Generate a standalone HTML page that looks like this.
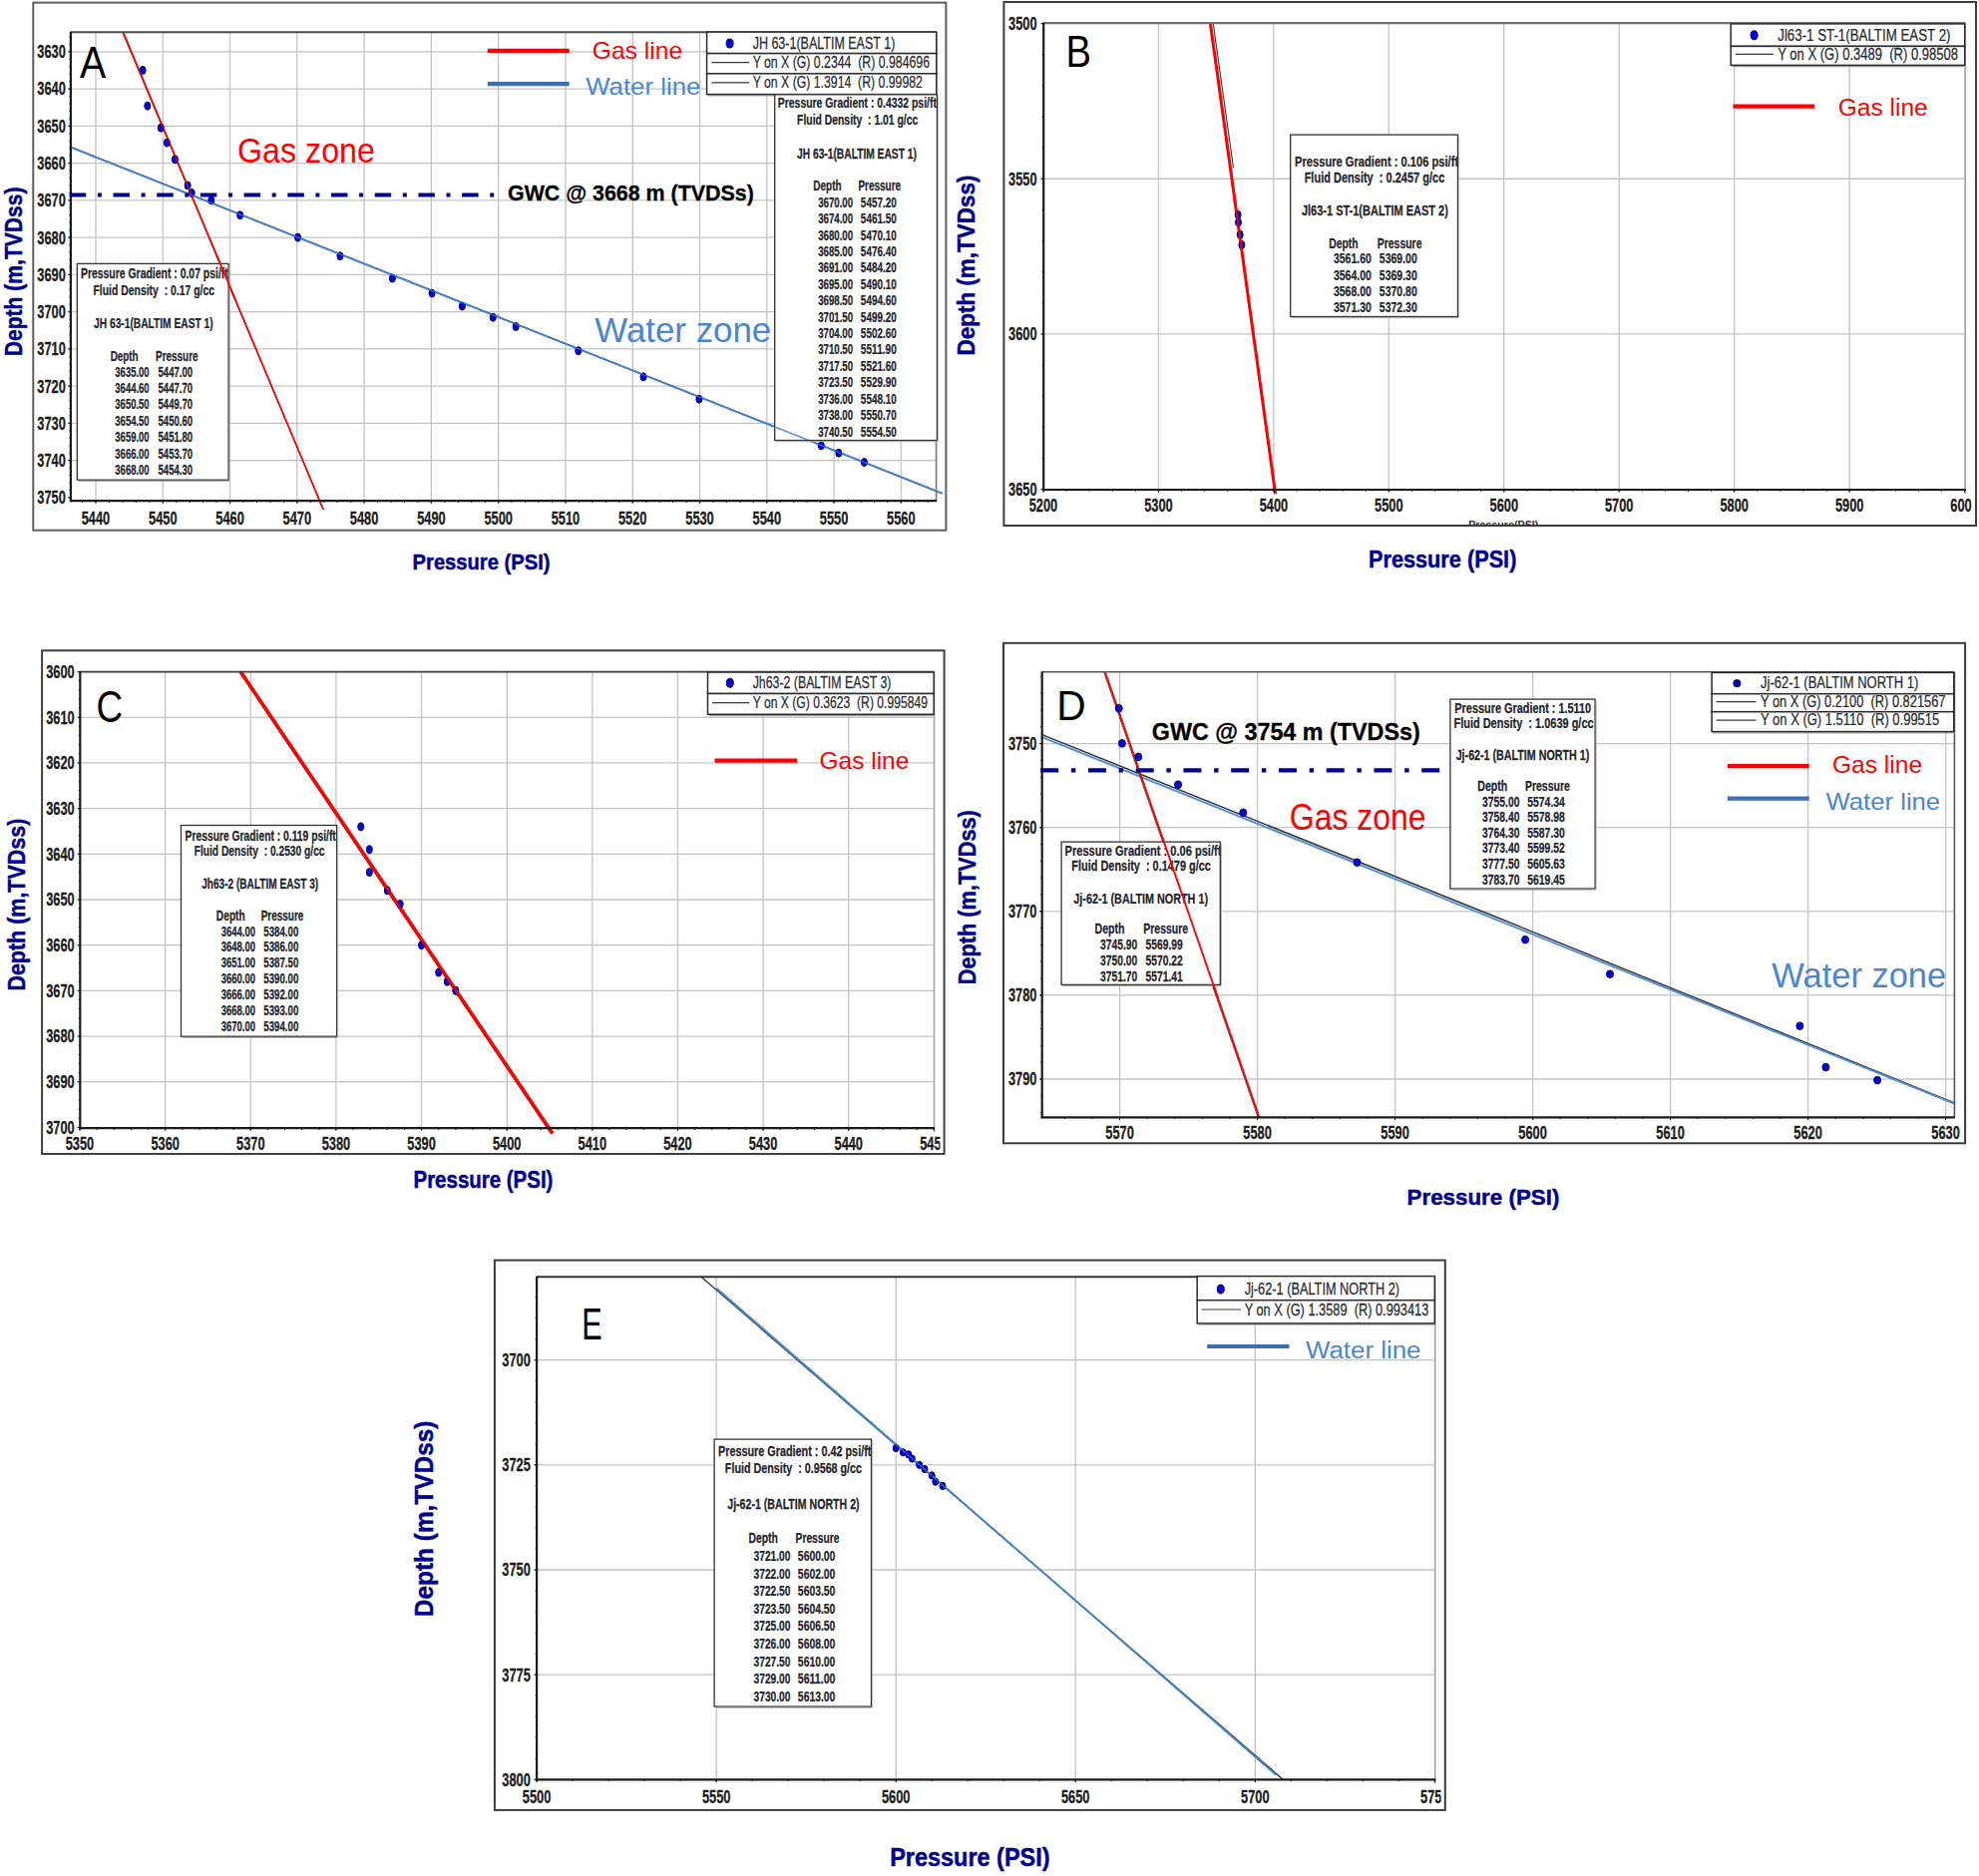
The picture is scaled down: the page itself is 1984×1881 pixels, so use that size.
<!DOCTYPE html>
<html lang="en"><head><meta charset="utf-8"><title>Pressure vs depth plots</title>
<style>html,body{margin:0;padding:0;background:#fff}svg{display:block}text{font-family:"Liberation Sans",Arial,Helvetica,sans-serif}</style></head><body>
<svg width="1984" height="1881" viewBox="0 0 1984 1881">
<g id="panelA">
<rect x="33.3" y="2.65" width="915.1" height="529.05" stroke="#5e5e5e" stroke-width="2" fill="#fff"/>
<line x1="96" y1="32.3" x2="96" y2="502.2" stroke="#c4c4c4" stroke-width="1.3"/>
<line x1="163.28" y1="32.3" x2="163.28" y2="502.2" stroke="#c4c4c4" stroke-width="1.3"/>
<line x1="230.56" y1="32.3" x2="230.56" y2="502.2" stroke="#c4c4c4" stroke-width="1.3"/>
<line x1="297.84" y1="32.3" x2="297.84" y2="502.2" stroke="#c4c4c4" stroke-width="1.3"/>
<line x1="365.12" y1="32.3" x2="365.12" y2="502.2" stroke="#c4c4c4" stroke-width="1.3"/>
<line x1="432.4" y1="32.3" x2="432.4" y2="502.2" stroke="#c4c4c4" stroke-width="1.3"/>
<line x1="499.68" y1="32.3" x2="499.68" y2="502.2" stroke="#c4c4c4" stroke-width="1.3"/>
<line x1="566.96" y1="32.3" x2="566.96" y2="502.2" stroke="#c4c4c4" stroke-width="1.3"/>
<line x1="634.24" y1="32.3" x2="634.24" y2="502.2" stroke="#c4c4c4" stroke-width="1.3"/>
<line x1="701.52" y1="32.3" x2="701.52" y2="502.2" stroke="#c4c4c4" stroke-width="1.3"/>
<line x1="768.8" y1="32.3" x2="768.8" y2="502.2" stroke="#c4c4c4" stroke-width="1.3"/>
<line x1="836.08" y1="32.3" x2="836.08" y2="502.2" stroke="#c4c4c4" stroke-width="1.3"/>
<line x1="903.36" y1="32.3" x2="903.36" y2="502.2" stroke="#c4c4c4" stroke-width="1.3"/>
<line x1="70.9" y1="51.8" x2="938.6" y2="51.8" stroke="#c4c4c4" stroke-width="1.3"/>
<line x1="70.9" y1="89.06" x2="938.6" y2="89.06" stroke="#c4c4c4" stroke-width="1.3"/>
<line x1="70.9" y1="126.32" x2="938.6" y2="126.32" stroke="#c4c4c4" stroke-width="1.3"/>
<line x1="70.9" y1="163.58" x2="938.6" y2="163.58" stroke="#c4c4c4" stroke-width="1.3"/>
<line x1="70.9" y1="200.84" x2="938.6" y2="200.84" stroke="#c4c4c4" stroke-width="1.3"/>
<line x1="70.9" y1="238.1" x2="938.6" y2="238.1" stroke="#c4c4c4" stroke-width="1.3"/>
<line x1="70.9" y1="275.36" x2="938.6" y2="275.36" stroke="#c4c4c4" stroke-width="1.3"/>
<line x1="70.9" y1="312.62" x2="938.6" y2="312.62" stroke="#c4c4c4" stroke-width="1.3"/>
<line x1="70.9" y1="349.88" x2="938.6" y2="349.88" stroke="#c4c4c4" stroke-width="1.3"/>
<line x1="70.9" y1="387.14" x2="938.6" y2="387.14" stroke="#c4c4c4" stroke-width="1.3"/>
<line x1="70.9" y1="424.4" x2="938.6" y2="424.4" stroke="#c4c4c4" stroke-width="1.3"/>
<line x1="70.9" y1="461.66" x2="938.6" y2="461.66" stroke="#c4c4c4" stroke-width="1.3"/>
<line x1="70.5" y1="147.3" x2="943" y2="494.1" stroke="#222" stroke-width="1.3"/>
<line x1="71.5" y1="147.8" x2="945" y2="494.8" stroke="#4585cf" stroke-width="1.9"/>
<line x1="122.3" y1="31.5" x2="323.2" y2="509" stroke="#444" stroke-width="0.9"/>
<line x1="123.6" y1="32.5" x2="324.2" y2="511" stroke="#ff0000" stroke-width="1.6"/>
<ellipse cx="143.1" cy="70.43" rx="3" ry="4" fill="#0000e6" stroke="#00005a" stroke-width="1"/>
<ellipse cx="147.81" cy="106.2" rx="3" ry="4" fill="#0000e6" stroke="#00005a" stroke-width="1"/>
<ellipse cx="161.26" cy="128.18" rx="3" ry="4" fill="#0000e6" stroke="#00005a" stroke-width="1"/>
<ellipse cx="167.32" cy="143.09" rx="3" ry="4" fill="#0000e6" stroke="#00005a" stroke-width="1"/>
<ellipse cx="175.39" cy="159.85" rx="3" ry="4" fill="#0000e6" stroke="#00005a" stroke-width="1"/>
<ellipse cx="188.17" cy="185.94" rx="3" ry="4" fill="#0000e6" stroke="#00005a" stroke-width="1"/>
<ellipse cx="192.21" cy="193.39" rx="3" ry="4" fill="#0000e6" stroke="#00005a" stroke-width="1"/>
<ellipse cx="211.72" cy="200.84" rx="3" ry="4" fill="#0000e6" stroke="#00005a" stroke-width="1"/>
<ellipse cx="240.65" cy="215.74" rx="3" ry="4" fill="#0000e6" stroke="#00005a" stroke-width="1"/>
<ellipse cx="298.51" cy="238.1" rx="3" ry="4" fill="#0000e6" stroke="#00005a" stroke-width="1"/>
<ellipse cx="340.9" cy="256.73" rx="3" ry="4" fill="#0000e6" stroke="#00005a" stroke-width="1"/>
<ellipse cx="393.38" cy="279.09" rx="3" ry="4" fill="#0000e6" stroke="#00005a" stroke-width="1"/>
<ellipse cx="433.07" cy="293.99" rx="3" ry="4" fill="#0000e6" stroke="#00005a" stroke-width="1"/>
<ellipse cx="463.35" cy="307.03" rx="3" ry="4" fill="#0000e6" stroke="#00005a" stroke-width="1"/>
<ellipse cx="494.3" cy="318.21" rx="3" ry="4" fill="#0000e6" stroke="#00005a" stroke-width="1"/>
<ellipse cx="517.17" cy="327.52" rx="3" ry="4" fill="#0000e6" stroke="#00005a" stroke-width="1"/>
<ellipse cx="579.74" cy="351.74" rx="3" ry="4" fill="#0000e6" stroke="#00005a" stroke-width="1"/>
<ellipse cx="645" cy="377.82" rx="3" ry="4" fill="#0000e6" stroke="#00005a" stroke-width="1"/>
<ellipse cx="700.85" cy="400.18" rx="3" ry="4" fill="#0000e6" stroke="#00005a" stroke-width="1"/>
<ellipse cx="823.3" cy="446.76" rx="3" ry="4" fill="#0000e6" stroke="#00005a" stroke-width="1"/>
<ellipse cx="840.79" cy="454.21" rx="3" ry="4" fill="#0000e6" stroke="#00005a" stroke-width="1"/>
<ellipse cx="866.36" cy="463.52" rx="3" ry="4" fill="#0000e6" stroke="#00005a" stroke-width="1"/>
<line x1="71.5" y1="147.8" x2="945" y2="494.8" stroke="#4585cf" stroke-width="1.3" opacity="0.8"/>
<line x1="123.6" y1="32.5" x2="324.2" y2="511" stroke="#ff0000" stroke-width="1.2" opacity="0.8"/>
<line x1="70.9" y1="32.3" x2="938.6" y2="32.3" stroke="#4a4a4a" stroke-width="2"/>
<line x1="938.6" y1="32.3" x2="938.6" y2="502.2" stroke="#777" stroke-width="1.6"/>
<line x1="70.9" y1="31.8" x2="70.9" y2="503.2" stroke="#1a1a1a" stroke-width="2.2"/>
<line x1="69.9" y1="502.2" x2="939.1" y2="502.2" stroke="#1a1a1a" stroke-width="2.2"/>
<line x1="82.54" y1="502.2" x2="82.54" y2="504" stroke="#1a1a1a" stroke-width="1"/>
<line x1="96" y1="502.2" x2="96" y2="504" stroke="#1a1a1a" stroke-width="1"/>
<line x1="109.46" y1="502.2" x2="109.46" y2="504" stroke="#1a1a1a" stroke-width="1"/>
<line x1="122.91" y1="502.2" x2="122.91" y2="504" stroke="#1a1a1a" stroke-width="1"/>
<line x1="136.37" y1="502.2" x2="136.37" y2="504" stroke="#1a1a1a" stroke-width="1"/>
<line x1="149.82" y1="502.2" x2="149.82" y2="504" stroke="#1a1a1a" stroke-width="1"/>
<line x1="163.28" y1="502.2" x2="163.28" y2="504" stroke="#1a1a1a" stroke-width="1"/>
<line x1="176.74" y1="502.2" x2="176.74" y2="504" stroke="#1a1a1a" stroke-width="1"/>
<line x1="190.19" y1="502.2" x2="190.19" y2="504" stroke="#1a1a1a" stroke-width="1"/>
<line x1="203.65" y1="502.2" x2="203.65" y2="504" stroke="#1a1a1a" stroke-width="1"/>
<line x1="217.1" y1="502.2" x2="217.1" y2="504" stroke="#1a1a1a" stroke-width="1"/>
<line x1="230.56" y1="502.2" x2="230.56" y2="504" stroke="#1a1a1a" stroke-width="1"/>
<line x1="244.02" y1="502.2" x2="244.02" y2="504" stroke="#1a1a1a" stroke-width="1"/>
<line x1="257.47" y1="502.2" x2="257.47" y2="504" stroke="#1a1a1a" stroke-width="1"/>
<line x1="270.93" y1="502.2" x2="270.93" y2="504" stroke="#1a1a1a" stroke-width="1"/>
<line x1="284.38" y1="502.2" x2="284.38" y2="504" stroke="#1a1a1a" stroke-width="1"/>
<line x1="297.84" y1="502.2" x2="297.84" y2="504" stroke="#1a1a1a" stroke-width="1"/>
<line x1="311.3" y1="502.2" x2="311.3" y2="504" stroke="#1a1a1a" stroke-width="1"/>
<line x1="324.75" y1="502.2" x2="324.75" y2="504" stroke="#1a1a1a" stroke-width="1"/>
<line x1="338.21" y1="502.2" x2="338.21" y2="504" stroke="#1a1a1a" stroke-width="1"/>
<line x1="351.66" y1="502.2" x2="351.66" y2="504" stroke="#1a1a1a" stroke-width="1"/>
<line x1="365.12" y1="502.2" x2="365.12" y2="504" stroke="#1a1a1a" stroke-width="1"/>
<line x1="378.58" y1="502.2" x2="378.58" y2="504" stroke="#1a1a1a" stroke-width="1"/>
<line x1="392.03" y1="502.2" x2="392.03" y2="504" stroke="#1a1a1a" stroke-width="1"/>
<line x1="405.49" y1="502.2" x2="405.49" y2="504" stroke="#1a1a1a" stroke-width="1"/>
<line x1="418.94" y1="502.2" x2="418.94" y2="504" stroke="#1a1a1a" stroke-width="1"/>
<line x1="432.4" y1="502.2" x2="432.4" y2="504" stroke="#1a1a1a" stroke-width="1"/>
<line x1="445.86" y1="502.2" x2="445.86" y2="504" stroke="#1a1a1a" stroke-width="1"/>
<line x1="459.31" y1="502.2" x2="459.31" y2="504" stroke="#1a1a1a" stroke-width="1"/>
<line x1="472.77" y1="502.2" x2="472.77" y2="504" stroke="#1a1a1a" stroke-width="1"/>
<line x1="486.22" y1="502.2" x2="486.22" y2="504" stroke="#1a1a1a" stroke-width="1"/>
<line x1="499.68" y1="502.2" x2="499.68" y2="504" stroke="#1a1a1a" stroke-width="1"/>
<line x1="513.14" y1="502.2" x2="513.14" y2="504" stroke="#1a1a1a" stroke-width="1"/>
<line x1="526.59" y1="502.2" x2="526.59" y2="504" stroke="#1a1a1a" stroke-width="1"/>
<line x1="540.05" y1="502.2" x2="540.05" y2="504" stroke="#1a1a1a" stroke-width="1"/>
<line x1="553.5" y1="502.2" x2="553.5" y2="504" stroke="#1a1a1a" stroke-width="1"/>
<line x1="566.96" y1="502.2" x2="566.96" y2="504" stroke="#1a1a1a" stroke-width="1"/>
<line x1="580.42" y1="502.2" x2="580.42" y2="504" stroke="#1a1a1a" stroke-width="1"/>
<line x1="593.87" y1="502.2" x2="593.87" y2="504" stroke="#1a1a1a" stroke-width="1"/>
<line x1="607.33" y1="502.2" x2="607.33" y2="504" stroke="#1a1a1a" stroke-width="1"/>
<line x1="620.78" y1="502.2" x2="620.78" y2="504" stroke="#1a1a1a" stroke-width="1"/>
<line x1="634.24" y1="502.2" x2="634.24" y2="504" stroke="#1a1a1a" stroke-width="1"/>
<line x1="647.7" y1="502.2" x2="647.7" y2="504" stroke="#1a1a1a" stroke-width="1"/>
<line x1="661.15" y1="502.2" x2="661.15" y2="504" stroke="#1a1a1a" stroke-width="1"/>
<line x1="674.61" y1="502.2" x2="674.61" y2="504" stroke="#1a1a1a" stroke-width="1"/>
<line x1="688.06" y1="502.2" x2="688.06" y2="504" stroke="#1a1a1a" stroke-width="1"/>
<line x1="701.52" y1="502.2" x2="701.52" y2="504" stroke="#1a1a1a" stroke-width="1"/>
<line x1="714.98" y1="502.2" x2="714.98" y2="504" stroke="#1a1a1a" stroke-width="1"/>
<line x1="728.43" y1="502.2" x2="728.43" y2="504" stroke="#1a1a1a" stroke-width="1"/>
<line x1="741.89" y1="502.2" x2="741.89" y2="504" stroke="#1a1a1a" stroke-width="1"/>
<line x1="755.34" y1="502.2" x2="755.34" y2="504" stroke="#1a1a1a" stroke-width="1"/>
<line x1="768.8" y1="502.2" x2="768.8" y2="504" stroke="#1a1a1a" stroke-width="1"/>
<line x1="782.26" y1="502.2" x2="782.26" y2="504" stroke="#1a1a1a" stroke-width="1"/>
<line x1="795.71" y1="502.2" x2="795.71" y2="504" stroke="#1a1a1a" stroke-width="1"/>
<line x1="809.17" y1="502.2" x2="809.17" y2="504" stroke="#1a1a1a" stroke-width="1"/>
<line x1="822.62" y1="502.2" x2="822.62" y2="504" stroke="#1a1a1a" stroke-width="1"/>
<line x1="836.08" y1="502.2" x2="836.08" y2="504" stroke="#1a1a1a" stroke-width="1"/>
<line x1="849.54" y1="502.2" x2="849.54" y2="504" stroke="#1a1a1a" stroke-width="1"/>
<line x1="862.99" y1="502.2" x2="862.99" y2="504" stroke="#1a1a1a" stroke-width="1"/>
<line x1="876.45" y1="502.2" x2="876.45" y2="504" stroke="#1a1a1a" stroke-width="1"/>
<line x1="889.9" y1="502.2" x2="889.9" y2="504" stroke="#1a1a1a" stroke-width="1"/>
<line x1="903.36" y1="502.2" x2="903.36" y2="504" stroke="#1a1a1a" stroke-width="1"/>
<line x1="916.82" y1="502.2" x2="916.82" y2="504" stroke="#1a1a1a" stroke-width="1"/>
<line x1="930.27" y1="502.2" x2="930.27" y2="504" stroke="#1a1a1a" stroke-width="1"/>
<line x1="69.3" y1="36.9" x2="70.9" y2="36.9" stroke="#1a1a1a" stroke-width="0.9"/>
<line x1="69.3" y1="44.35" x2="70.9" y2="44.35" stroke="#1a1a1a" stroke-width="0.9"/>
<line x1="69.3" y1="51.8" x2="70.9" y2="51.8" stroke="#1a1a1a" stroke-width="0.9"/>
<line x1="69.3" y1="59.25" x2="70.9" y2="59.25" stroke="#1a1a1a" stroke-width="0.9"/>
<line x1="69.3" y1="66.7" x2="70.9" y2="66.7" stroke="#1a1a1a" stroke-width="0.9"/>
<line x1="69.3" y1="74.16" x2="70.9" y2="74.16" stroke="#1a1a1a" stroke-width="0.9"/>
<line x1="69.3" y1="81.61" x2="70.9" y2="81.61" stroke="#1a1a1a" stroke-width="0.9"/>
<line x1="69.3" y1="89.06" x2="70.9" y2="89.06" stroke="#1a1a1a" stroke-width="0.9"/>
<line x1="69.3" y1="96.51" x2="70.9" y2="96.51" stroke="#1a1a1a" stroke-width="0.9"/>
<line x1="69.3" y1="103.96" x2="70.9" y2="103.96" stroke="#1a1a1a" stroke-width="0.9"/>
<line x1="69.3" y1="111.42" x2="70.9" y2="111.42" stroke="#1a1a1a" stroke-width="0.9"/>
<line x1="69.3" y1="118.87" x2="70.9" y2="118.87" stroke="#1a1a1a" stroke-width="0.9"/>
<line x1="69.3" y1="126.32" x2="70.9" y2="126.32" stroke="#1a1a1a" stroke-width="0.9"/>
<line x1="69.3" y1="133.77" x2="70.9" y2="133.77" stroke="#1a1a1a" stroke-width="0.9"/>
<line x1="69.3" y1="141.22" x2="70.9" y2="141.22" stroke="#1a1a1a" stroke-width="0.9"/>
<line x1="69.3" y1="148.68" x2="70.9" y2="148.68" stroke="#1a1a1a" stroke-width="0.9"/>
<line x1="69.3" y1="156.13" x2="70.9" y2="156.13" stroke="#1a1a1a" stroke-width="0.9"/>
<line x1="69.3" y1="163.58" x2="70.9" y2="163.58" stroke="#1a1a1a" stroke-width="0.9"/>
<line x1="69.3" y1="171.03" x2="70.9" y2="171.03" stroke="#1a1a1a" stroke-width="0.9"/>
<line x1="69.3" y1="178.48" x2="70.9" y2="178.48" stroke="#1a1a1a" stroke-width="0.9"/>
<line x1="69.3" y1="185.94" x2="70.9" y2="185.94" stroke="#1a1a1a" stroke-width="0.9"/>
<line x1="69.3" y1="193.39" x2="70.9" y2="193.39" stroke="#1a1a1a" stroke-width="0.9"/>
<line x1="69.3" y1="200.84" x2="70.9" y2="200.84" stroke="#1a1a1a" stroke-width="0.9"/>
<line x1="69.3" y1="208.29" x2="70.9" y2="208.29" stroke="#1a1a1a" stroke-width="0.9"/>
<line x1="69.3" y1="215.74" x2="70.9" y2="215.74" stroke="#1a1a1a" stroke-width="0.9"/>
<line x1="69.3" y1="223.2" x2="70.9" y2="223.2" stroke="#1a1a1a" stroke-width="0.9"/>
<line x1="69.3" y1="230.65" x2="70.9" y2="230.65" stroke="#1a1a1a" stroke-width="0.9"/>
<line x1="69.3" y1="238.1" x2="70.9" y2="238.1" stroke="#1a1a1a" stroke-width="0.9"/>
<line x1="69.3" y1="245.55" x2="70.9" y2="245.55" stroke="#1a1a1a" stroke-width="0.9"/>
<line x1="69.3" y1="253" x2="70.9" y2="253" stroke="#1a1a1a" stroke-width="0.9"/>
<line x1="69.3" y1="260.46" x2="70.9" y2="260.46" stroke="#1a1a1a" stroke-width="0.9"/>
<line x1="69.3" y1="267.91" x2="70.9" y2="267.91" stroke="#1a1a1a" stroke-width="0.9"/>
<line x1="69.3" y1="275.36" x2="70.9" y2="275.36" stroke="#1a1a1a" stroke-width="0.9"/>
<line x1="69.3" y1="282.81" x2="70.9" y2="282.81" stroke="#1a1a1a" stroke-width="0.9"/>
<line x1="69.3" y1="290.26" x2="70.9" y2="290.26" stroke="#1a1a1a" stroke-width="0.9"/>
<line x1="69.3" y1="297.72" x2="70.9" y2="297.72" stroke="#1a1a1a" stroke-width="0.9"/>
<line x1="69.3" y1="305.17" x2="70.9" y2="305.17" stroke="#1a1a1a" stroke-width="0.9"/>
<line x1="69.3" y1="312.62" x2="70.9" y2="312.62" stroke="#1a1a1a" stroke-width="0.9"/>
<line x1="69.3" y1="320.07" x2="70.9" y2="320.07" stroke="#1a1a1a" stroke-width="0.9"/>
<line x1="69.3" y1="327.52" x2="70.9" y2="327.52" stroke="#1a1a1a" stroke-width="0.9"/>
<line x1="69.3" y1="334.98" x2="70.9" y2="334.98" stroke="#1a1a1a" stroke-width="0.9"/>
<line x1="69.3" y1="342.43" x2="70.9" y2="342.43" stroke="#1a1a1a" stroke-width="0.9"/>
<line x1="69.3" y1="349.88" x2="70.9" y2="349.88" stroke="#1a1a1a" stroke-width="0.9"/>
<line x1="69.3" y1="357.33" x2="70.9" y2="357.33" stroke="#1a1a1a" stroke-width="0.9"/>
<line x1="69.3" y1="364.78" x2="70.9" y2="364.78" stroke="#1a1a1a" stroke-width="0.9"/>
<line x1="69.3" y1="372.24" x2="70.9" y2="372.24" stroke="#1a1a1a" stroke-width="0.9"/>
<line x1="69.3" y1="379.69" x2="70.9" y2="379.69" stroke="#1a1a1a" stroke-width="0.9"/>
<line x1="69.3" y1="387.14" x2="70.9" y2="387.14" stroke="#1a1a1a" stroke-width="0.9"/>
<line x1="69.3" y1="394.59" x2="70.9" y2="394.59" stroke="#1a1a1a" stroke-width="0.9"/>
<line x1="69.3" y1="402.04" x2="70.9" y2="402.04" stroke="#1a1a1a" stroke-width="0.9"/>
<line x1="69.3" y1="409.5" x2="70.9" y2="409.5" stroke="#1a1a1a" stroke-width="0.9"/>
<line x1="69.3" y1="416.95" x2="70.9" y2="416.95" stroke="#1a1a1a" stroke-width="0.9"/>
<line x1="69.3" y1="424.4" x2="70.9" y2="424.4" stroke="#1a1a1a" stroke-width="0.9"/>
<line x1="69.3" y1="431.85" x2="70.9" y2="431.85" stroke="#1a1a1a" stroke-width="0.9"/>
<line x1="69.3" y1="439.3" x2="70.9" y2="439.3" stroke="#1a1a1a" stroke-width="0.9"/>
<line x1="69.3" y1="446.76" x2="70.9" y2="446.76" stroke="#1a1a1a" stroke-width="0.9"/>
<line x1="69.3" y1="454.21" x2="70.9" y2="454.21" stroke="#1a1a1a" stroke-width="0.9"/>
<line x1="69.3" y1="461.66" x2="70.9" y2="461.66" stroke="#1a1a1a" stroke-width="0.9"/>
<line x1="69.3" y1="469.11" x2="70.9" y2="469.11" stroke="#1a1a1a" stroke-width="0.9"/>
<line x1="69.3" y1="476.56" x2="70.9" y2="476.56" stroke="#1a1a1a" stroke-width="0.9"/>
<line x1="69.3" y1="484.02" x2="70.9" y2="484.02" stroke="#1a1a1a" stroke-width="0.9"/>
<line x1="69.3" y1="491.47" x2="70.9" y2="491.47" stroke="#1a1a1a" stroke-width="0.9"/>
<line x1="69.3" y1="498.92" x2="70.9" y2="498.92" stroke="#1a1a1a" stroke-width="0.9"/>
<line x1="96" y1="502.2" x2="96" y2="504.8" stroke="#1a1a1a" stroke-width="1.2"/>
<line x1="163.28" y1="502.2" x2="163.28" y2="504.8" stroke="#1a1a1a" stroke-width="1.2"/>
<line x1="230.56" y1="502.2" x2="230.56" y2="504.8" stroke="#1a1a1a" stroke-width="1.2"/>
<line x1="297.84" y1="502.2" x2="297.84" y2="504.8" stroke="#1a1a1a" stroke-width="1.2"/>
<line x1="365.12" y1="502.2" x2="365.12" y2="504.8" stroke="#1a1a1a" stroke-width="1.2"/>
<line x1="432.4" y1="502.2" x2="432.4" y2="504.8" stroke="#1a1a1a" stroke-width="1.2"/>
<line x1="499.68" y1="502.2" x2="499.68" y2="504.8" stroke="#1a1a1a" stroke-width="1.2"/>
<line x1="566.96" y1="502.2" x2="566.96" y2="504.8" stroke="#1a1a1a" stroke-width="1.2"/>
<line x1="634.24" y1="502.2" x2="634.24" y2="504.8" stroke="#1a1a1a" stroke-width="1.2"/>
<line x1="701.52" y1="502.2" x2="701.52" y2="504.8" stroke="#1a1a1a" stroke-width="1.2"/>
<line x1="768.8" y1="502.2" x2="768.8" y2="504.8" stroke="#1a1a1a" stroke-width="1.2"/>
<line x1="836.08" y1="502.2" x2="836.08" y2="504.8" stroke="#1a1a1a" stroke-width="1.2"/>
<line x1="903.36" y1="502.2" x2="903.36" y2="504.8" stroke="#1a1a1a" stroke-width="1.2"/>
<line x1="68.3" y1="51.8" x2="70.9" y2="51.8" stroke="#1a1a1a" stroke-width="1.2"/>
<line x1="68.3" y1="89.06" x2="70.9" y2="89.06" stroke="#1a1a1a" stroke-width="1.2"/>
<line x1="68.3" y1="126.32" x2="70.9" y2="126.32" stroke="#1a1a1a" stroke-width="1.2"/>
<line x1="68.3" y1="163.58" x2="70.9" y2="163.58" stroke="#1a1a1a" stroke-width="1.2"/>
<line x1="68.3" y1="200.84" x2="70.9" y2="200.84" stroke="#1a1a1a" stroke-width="1.2"/>
<line x1="68.3" y1="238.1" x2="70.9" y2="238.1" stroke="#1a1a1a" stroke-width="1.2"/>
<line x1="68.3" y1="275.36" x2="70.9" y2="275.36" stroke="#1a1a1a" stroke-width="1.2"/>
<line x1="68.3" y1="312.62" x2="70.9" y2="312.62" stroke="#1a1a1a" stroke-width="1.2"/>
<line x1="68.3" y1="349.88" x2="70.9" y2="349.88" stroke="#1a1a1a" stroke-width="1.2"/>
<line x1="68.3" y1="387.14" x2="70.9" y2="387.14" stroke="#1a1a1a" stroke-width="1.2"/>
<line x1="68.3" y1="424.4" x2="70.9" y2="424.4" stroke="#1a1a1a" stroke-width="1.2"/>
<line x1="68.3" y1="461.66" x2="70.9" y2="461.66" stroke="#1a1a1a" stroke-width="1.2"/>
<line x1="68.3" y1="498.92" x2="70.9" y2="498.92" stroke="#1a1a1a" stroke-width="1.2"/>
<text transform="translate(37.3 58.2) scale(0.7000 1)" font-size="18.3" fill="#1c1c1c" font-weight="bold" stroke="#1c1c1c" stroke-width="0.3" xml:space="preserve">3630</text>
<text transform="translate(37.3 95.46) scale(0.7000 1)" font-size="18.3" fill="#1c1c1c" font-weight="bold" stroke="#1c1c1c" stroke-width="0.3" xml:space="preserve">3640</text>
<text transform="translate(37.3 132.72) scale(0.7000 1)" font-size="18.3" fill="#1c1c1c" font-weight="bold" stroke="#1c1c1c" stroke-width="0.3" xml:space="preserve">3650</text>
<text transform="translate(37.3 169.98) scale(0.7000 1)" font-size="18.3" fill="#1c1c1c" font-weight="bold" stroke="#1c1c1c" stroke-width="0.3" xml:space="preserve">3660</text>
<text transform="translate(37.3 207.24) scale(0.7000 1)" font-size="18.3" fill="#1c1c1c" font-weight="bold" stroke="#1c1c1c" stroke-width="0.3" xml:space="preserve">3670</text>
<text transform="translate(37.3 244.5) scale(0.7000 1)" font-size="18.3" fill="#1c1c1c" font-weight="bold" stroke="#1c1c1c" stroke-width="0.3" xml:space="preserve">3680</text>
<text transform="translate(37.3 281.76) scale(0.7000 1)" font-size="18.3" fill="#1c1c1c" font-weight="bold" stroke="#1c1c1c" stroke-width="0.3" xml:space="preserve">3690</text>
<text transform="translate(37.3 319.02) scale(0.7000 1)" font-size="18.3" fill="#1c1c1c" font-weight="bold" stroke="#1c1c1c" stroke-width="0.3" xml:space="preserve">3700</text>
<text transform="translate(37.3 356.28) scale(0.7000 1)" font-size="18.3" fill="#1c1c1c" font-weight="bold" stroke="#1c1c1c" stroke-width="0.3" xml:space="preserve">3710</text>
<text transform="translate(37.3 393.54) scale(0.7000 1)" font-size="18.3" fill="#1c1c1c" font-weight="bold" stroke="#1c1c1c" stroke-width="0.3" xml:space="preserve">3720</text>
<text transform="translate(37.3 430.8) scale(0.7000 1)" font-size="18.3" fill="#1c1c1c" font-weight="bold" stroke="#1c1c1c" stroke-width="0.3" xml:space="preserve">3730</text>
<text transform="translate(37.3 468.06) scale(0.7000 1)" font-size="18.3" fill="#1c1c1c" font-weight="bold" stroke="#1c1c1c" stroke-width="0.3" xml:space="preserve">3740</text>
<text transform="translate(37.3 505.32) scale(0.7000 1)" font-size="18.3" fill="#1c1c1c" font-weight="bold" stroke="#1c1c1c" stroke-width="0.3" xml:space="preserve">3750</text>
<text transform="translate(81.75 525.5) scale(0.7000 1)" font-size="18.3" fill="#1c1c1c" font-weight="bold" stroke="#1c1c1c" stroke-width="0.3" xml:space="preserve">5440</text>
<text transform="translate(149.03 525.5) scale(0.7000 1)" font-size="18.3" fill="#1c1c1c" font-weight="bold" stroke="#1c1c1c" stroke-width="0.3" xml:space="preserve">5450</text>
<text transform="translate(216.31 525.5) scale(0.7000 1)" font-size="18.3" fill="#1c1c1c" font-weight="bold" stroke="#1c1c1c" stroke-width="0.3" xml:space="preserve">5460</text>
<text transform="translate(283.59 525.5) scale(0.7000 1)" font-size="18.3" fill="#1c1c1c" font-weight="bold" stroke="#1c1c1c" stroke-width="0.3" xml:space="preserve">5470</text>
<text transform="translate(350.87 525.5) scale(0.7000 1)" font-size="18.3" fill="#1c1c1c" font-weight="bold" stroke="#1c1c1c" stroke-width="0.3" xml:space="preserve">5480</text>
<text transform="translate(418.15 525.5) scale(0.7000 1)" font-size="18.3" fill="#1c1c1c" font-weight="bold" stroke="#1c1c1c" stroke-width="0.3" xml:space="preserve">5490</text>
<text transform="translate(485.43 525.5) scale(0.7000 1)" font-size="18.3" fill="#1c1c1c" font-weight="bold" stroke="#1c1c1c" stroke-width="0.3" xml:space="preserve">5500</text>
<text transform="translate(552.71 525.5) scale(0.7000 1)" font-size="18.3" fill="#1c1c1c" font-weight="bold" stroke="#1c1c1c" stroke-width="0.3" xml:space="preserve">5510</text>
<text transform="translate(619.99 525.5) scale(0.7000 1)" font-size="18.3" fill="#1c1c1c" font-weight="bold" stroke="#1c1c1c" stroke-width="0.3" xml:space="preserve">5520</text>
<text transform="translate(687.27 525.5) scale(0.7000 1)" font-size="18.3" fill="#1c1c1c" font-weight="bold" stroke="#1c1c1c" stroke-width="0.3" xml:space="preserve">5530</text>
<text transform="translate(754.55 525.5) scale(0.7000 1)" font-size="18.3" fill="#1c1c1c" font-weight="bold" stroke="#1c1c1c" stroke-width="0.3" xml:space="preserve">5540</text>
<text transform="translate(821.83 525.5) scale(0.7000 1)" font-size="18.3" fill="#1c1c1c" font-weight="bold" stroke="#1c1c1c" stroke-width="0.3" xml:space="preserve">5550</text>
<text transform="translate(889.11 525.5) scale(0.7000 1)" font-size="18.3" fill="#1c1c1c" font-weight="bold" stroke="#1c1c1c" stroke-width="0.3" xml:space="preserve">5560</text>
<line x1="69.8" y1="195.6" x2="495.2" y2="195.6" stroke="#00008f" stroke-width="4" stroke-dasharray="16.5 11.6 4 11.6"/>
<text transform="translate(509 200.8) scale(0.9434 1)" font-size="22.7" fill="#000" font-weight="bold" stroke="#000" stroke-width="0.3" xml:space="preserve">GWC @ 3668 m (TVDSs)</text>
<line x1="488.8" y1="50.9" x2="570.7" y2="50.9" stroke="#ff0000" stroke-width="4.2"/>
<text transform="translate(593.8 58.5) scale(1.0442 1)" font-size="23.6" fill="#ff0000" xml:space="preserve">Gas line</text>
<line x1="488.8" y1="84.1" x2="570.7" y2="84.1" stroke="#3d6fb5" stroke-width="4.2"/>
<text transform="translate(587.2 95) scale(1.1027 1)" font-size="23.4" fill="#4a86d0" xml:space="preserve">Water line</text>
<text transform="translate(238 162.8) scale(0.8949 1)" font-size="36" fill="#ff0000" xml:space="preserve">Gas zone</text>
<text transform="translate(596.3 343) scale(0.9686 1)" font-size="36" fill="#4a86d0" xml:space="preserve">Water zone</text>
<text transform="translate(79.9 78) scale(0.8894 1)" font-size="44.3" fill="#000">A</text>
<rect x="708.6" y="32.1" width="230.2" height="62.5" stroke="none" stroke-width="0" fill="#fff"/>
<line x1="709.6" y1="95.9" x2="939.8" y2="95.9" stroke="#a8a8a8" stroke-width="1.2"/>
<rect x="708.6" y="32.1" width="230.2" height="21.5" stroke="#2a2a2a" stroke-width="1.5" fill="#fff"/>
<ellipse cx="731.6" cy="43.5" rx="3.5" ry="4.5" fill="#0000e6" stroke="#00005a" stroke-width="1"/>
<text transform="translate(754.65 48.85) scale(0.7625 1)" font-size="16.4" fill="#2a2a2e" stroke="#2a2a2e" stroke-width="0.25" xml:space="preserve">JH 63-1(BALTIM EAST 1)</text>
<rect x="708.6" y="53.6" width="230.2" height="20.2" stroke="#2a2a2a" stroke-width="1.5" fill="#fff"/>
<line x1="713.3" y1="62.7" x2="751.2" y2="62.7" stroke="#3a3a3a" stroke-width="1.2"/>
<text transform="translate(754.65 68.35) scale(0.7494 1)" font-size="16.4" fill="#2a2a2e" stroke="#2a2a2e" stroke-width="0.25" xml:space="preserve">Y on X (G) 0.2344  (R) 0.984696</text>
<rect x="708.6" y="73.8" width="230.2" height="20.8" stroke="#2a2a2a" stroke-width="1.5" fill="#fff"/>
<line x1="713.3" y1="82.9" x2="751.2" y2="82.9" stroke="#3a3a3a" stroke-width="1.2"/>
<text transform="translate(754.65 87.95) scale(0.7491 1)" font-size="16.4" fill="#2a2a2e" stroke="#2a2a2e" stroke-width="0.25" xml:space="preserve">Y on X (G) 1.3914  (R) 0.99982</text>
<rect x="77.3" y="264.4" width="151.8" height="216.8" stroke="#333" stroke-width="1.3" fill="#fff"/>
<line x1="78.8" y1="482.4" x2="230.1" y2="482.4" stroke="#aaa" stroke-width="1"/>
<line x1="230.3" y1="265.9" x2="230.3" y2="482.2" stroke="#bbb" stroke-width="1"/>
<clipPath id="cA1"><rect x="77.3" y="264.4" width="151.4" height="216.8"/></clipPath>
<g clip-path="url(#cA1)">
<text transform="translate(80.95 278.9) scale(0.7570 1)" font-size="13.8" fill="#24242c" font-weight="bold" stroke="#24242c" stroke-width="0.25" xml:space="preserve">Pressure Gradient : 0.07 psi/ft</text>
<text transform="translate(93.45 295.8) scale(0.7557 1)" font-size="13.8" fill="#24242c" font-weight="bold" stroke="#24242c" stroke-width="0.25" xml:space="preserve">Fluid Density  : 0.17 g/cc</text>
<text transform="translate(94.05 329) scale(0.7416 1)" font-size="13.8" fill="#24242c" font-weight="bold" stroke="#24242c" stroke-width="0.25" xml:space="preserve">JH 63-1(BALTIM EAST 1)</text>
<text transform="translate(110.65 361.6) scale(0.7162 1)" font-size="13.8" fill="#24242c" font-weight="bold" stroke="#24242c" stroke-width="0.25" xml:space="preserve">Depth</text>
<text transform="translate(156.05 361.6) scale(0.7194 1)" font-size="13.8" fill="#24242c" font-weight="bold" stroke="#24242c" stroke-width="0.25" xml:space="preserve">Pressure</text>
<text transform="translate(115.35 377.5) scale(0.6876 1)" font-size="13.8" fill="#24242c" font-weight="bold" stroke="#24242c" stroke-width="0.25" xml:space="preserve">3635.00</text>
<text transform="translate(158.55 377.5) scale(0.6936 1)" font-size="13.8" fill="#24242c" font-weight="bold" stroke="#24242c" stroke-width="0.25" xml:space="preserve">5447.00</text>
<text transform="translate(115.35 393.95) scale(0.6876 1)" font-size="13.8" fill="#24242c" font-weight="bold" stroke="#24242c" stroke-width="0.25" xml:space="preserve">3644.60</text>
<text transform="translate(158.55 393.95) scale(0.6936 1)" font-size="13.8" fill="#24242c" font-weight="bold" stroke="#24242c" stroke-width="0.25" xml:space="preserve">5447.70</text>
<text transform="translate(115.35 410.4) scale(0.6876 1)" font-size="13.8" fill="#24242c" font-weight="bold" stroke="#24242c" stroke-width="0.25" xml:space="preserve">3650.50</text>
<text transform="translate(158.55 410.4) scale(0.6936 1)" font-size="13.8" fill="#24242c" font-weight="bold" stroke="#24242c" stroke-width="0.25" xml:space="preserve">5449.70</text>
<text transform="translate(115.35 426.85) scale(0.6876 1)" font-size="13.8" fill="#24242c" font-weight="bold" stroke="#24242c" stroke-width="0.25" xml:space="preserve">3654.50</text>
<text transform="translate(158.55 426.85) scale(0.6936 1)" font-size="13.8" fill="#24242c" font-weight="bold" stroke="#24242c" stroke-width="0.25" xml:space="preserve">5450.60</text>
<text transform="translate(115.35 443.3) scale(0.6876 1)" font-size="13.8" fill="#24242c" font-weight="bold" stroke="#24242c" stroke-width="0.25" xml:space="preserve">3659.00</text>
<text transform="translate(158.55 443.3) scale(0.6936 1)" font-size="13.8" fill="#24242c" font-weight="bold" stroke="#24242c" stroke-width="0.25" xml:space="preserve">5451.80</text>
<text transform="translate(115.35 459.75) scale(0.6876 1)" font-size="13.8" fill="#24242c" font-weight="bold" stroke="#24242c" stroke-width="0.25" xml:space="preserve">3666.00</text>
<text transform="translate(158.55 459.75) scale(0.6936 1)" font-size="13.8" fill="#24242c" font-weight="bold" stroke="#24242c" stroke-width="0.25" xml:space="preserve">5453.70</text>
<text transform="translate(115.35 476.2) scale(0.6876 1)" font-size="13.8" fill="#24242c" font-weight="bold" stroke="#24242c" stroke-width="0.25" xml:space="preserve">3668.00</text>
<text transform="translate(158.55 476.2) scale(0.6936 1)" font-size="13.8" fill="#24242c" font-weight="bold" stroke="#24242c" stroke-width="0.25" xml:space="preserve">5454.30</text>
</g>
<clipPath id="cA1r"><rect x="200" y="255" width="60" height="45"/></clipPath>
<line x1="123.6" y1="32.5" x2="324.2" y2="511" stroke="#ff0000" stroke-width="1.8" clip-path="url(#cA1r)"/>
<rect x="776.7" y="94.8" width="162.7" height="346.7" stroke="#333" stroke-width="1.3" fill="#fff"/>
<line x1="778.2" y1="442.7" x2="940.4" y2="442.7" stroke="#aaa" stroke-width="1"/>
<line x1="940.6" y1="96.3" x2="940.6" y2="442.5" stroke="#bbb" stroke-width="1"/>
<clipPath id="cA2"><rect x="776.7" y="94.8" width="162.3" height="346.7"/></clipPath>
<g clip-path="url(#cA2)">
<text transform="translate(779.85 107.9) scale(0.7540 1)" font-size="13.8" fill="#24242c" font-weight="bold" stroke="#24242c" stroke-width="0.25" xml:space="preserve">Pressure Gradient : 0.4332 psi/ft</text>
<text transform="translate(799.05 125.1) scale(0.7538 1)" font-size="13.8" fill="#24242c" font-weight="bold" stroke="#24242c" stroke-width="0.25" xml:space="preserve">Fluid Density  : 1.01 g/cc</text>
<text transform="translate(799.05 158.7) scale(0.7423 1)" font-size="13.8" fill="#24242c" font-weight="bold" stroke="#24242c" stroke-width="0.25" xml:space="preserve">JH 63-1(BALTIM EAST 1)</text>
<text transform="translate(815.35 190.9) scale(0.7238 1)" font-size="13.8" fill="#24242c" font-weight="bold" stroke="#24242c" stroke-width="0.25" xml:space="preserve">Depth</text>
<text transform="translate(860.45 190.9) scale(0.7228 1)" font-size="13.8" fill="#24242c" font-weight="bold" stroke="#24242c" stroke-width="0.25" xml:space="preserve">Pressure</text>
<text transform="translate(820.15 207.7) scale(0.7016 1)" font-size="13.8" fill="#24242c" font-weight="bold" stroke="#24242c" stroke-width="0.25" xml:space="preserve">3670.00</text>
<text transform="translate(862.85 207.7) scale(0.7217 1)" font-size="13.8" fill="#24242c" font-weight="bold" stroke="#24242c" stroke-width="0.25" xml:space="preserve">5457.20</text>
<text transform="translate(820.15 224.12) scale(0.7016 1)" font-size="13.8" fill="#24242c" font-weight="bold" stroke="#24242c" stroke-width="0.25" xml:space="preserve">3674.00</text>
<text transform="translate(862.85 224.12) scale(0.7217 1)" font-size="13.8" fill="#24242c" font-weight="bold" stroke="#24242c" stroke-width="0.25" xml:space="preserve">5461.50</text>
<text transform="translate(820.15 240.54) scale(0.7016 1)" font-size="13.8" fill="#24242c" font-weight="bold" stroke="#24242c" stroke-width="0.25" xml:space="preserve">3680.00</text>
<text transform="translate(862.85 240.54) scale(0.7217 1)" font-size="13.8" fill="#24242c" font-weight="bold" stroke="#24242c" stroke-width="0.25" xml:space="preserve">5470.10</text>
<text transform="translate(820.15 256.96) scale(0.7016 1)" font-size="13.8" fill="#24242c" font-weight="bold" stroke="#24242c" stroke-width="0.25" xml:space="preserve">3685.00</text>
<text transform="translate(862.85 256.96) scale(0.7217 1)" font-size="13.8" fill="#24242c" font-weight="bold" stroke="#24242c" stroke-width="0.25" xml:space="preserve">5476.40</text>
<text transform="translate(820.15 273.38) scale(0.7016 1)" font-size="13.8" fill="#24242c" font-weight="bold" stroke="#24242c" stroke-width="0.25" xml:space="preserve">3691.00</text>
<text transform="translate(862.85 273.38) scale(0.7217 1)" font-size="13.8" fill="#24242c" font-weight="bold" stroke="#24242c" stroke-width="0.25" xml:space="preserve">5484.20</text>
<text transform="translate(820.15 289.8) scale(0.7016 1)" font-size="13.8" fill="#24242c" font-weight="bold" stroke="#24242c" stroke-width="0.25" xml:space="preserve">3695.00</text>
<text transform="translate(862.85 289.8) scale(0.7217 1)" font-size="13.8" fill="#24242c" font-weight="bold" stroke="#24242c" stroke-width="0.25" xml:space="preserve">5490.10</text>
<text transform="translate(820.15 306.22) scale(0.7016 1)" font-size="13.8" fill="#24242c" font-weight="bold" stroke="#24242c" stroke-width="0.25" xml:space="preserve">3698.50</text>
<text transform="translate(862.85 306.22) scale(0.7217 1)" font-size="13.8" fill="#24242c" font-weight="bold" stroke="#24242c" stroke-width="0.25" xml:space="preserve">5494.60</text>
<text transform="translate(820.15 322.64) scale(0.7016 1)" font-size="13.8" fill="#24242c" font-weight="bold" stroke="#24242c" stroke-width="0.25" xml:space="preserve">3701.50</text>
<text transform="translate(862.85 322.64) scale(0.7217 1)" font-size="13.8" fill="#24242c" font-weight="bold" stroke="#24242c" stroke-width="0.25" xml:space="preserve">5499.20</text>
<text transform="translate(820.15 339.06) scale(0.7016 1)" font-size="13.8" fill="#24242c" font-weight="bold" stroke="#24242c" stroke-width="0.25" xml:space="preserve">3704.00</text>
<text transform="translate(862.85 339.06) scale(0.7217 1)" font-size="13.8" fill="#24242c" font-weight="bold" stroke="#24242c" stroke-width="0.25" xml:space="preserve">5502.60</text>
<text transform="translate(820.15 355.48) scale(0.7016 1)" font-size="13.8" fill="#24242c" font-weight="bold" stroke="#24242c" stroke-width="0.25" xml:space="preserve">3710.50</text>
<text transform="translate(862.85 355.48) scale(0.7328 1)" font-size="13.8" fill="#24242c" font-weight="bold" stroke="#24242c" stroke-width="0.25" xml:space="preserve">5511.90</text>
<text transform="translate(820.15 371.9) scale(0.7016 1)" font-size="13.8" fill="#24242c" font-weight="bold" stroke="#24242c" stroke-width="0.25" xml:space="preserve">3717.50</text>
<text transform="translate(862.85 371.9) scale(0.7217 1)" font-size="13.8" fill="#24242c" font-weight="bold" stroke="#24242c" stroke-width="0.25" xml:space="preserve">5521.60</text>
<text transform="translate(820.15 388.32) scale(0.7016 1)" font-size="13.8" fill="#24242c" font-weight="bold" stroke="#24242c" stroke-width="0.25" xml:space="preserve">3723.50</text>
<text transform="translate(862.85 388.32) scale(0.7217 1)" font-size="13.8" fill="#24242c" font-weight="bold" stroke="#24242c" stroke-width="0.25" xml:space="preserve">5529.90</text>
<text transform="translate(820.15 404.74) scale(0.7016 1)" font-size="13.8" fill="#24242c" font-weight="bold" stroke="#24242c" stroke-width="0.25" xml:space="preserve">3736.00</text>
<text transform="translate(862.85 404.74) scale(0.7217 1)" font-size="13.8" fill="#24242c" font-weight="bold" stroke="#24242c" stroke-width="0.25" xml:space="preserve">5548.10</text>
<text transform="translate(820.15 421.16) scale(0.7016 1)" font-size="13.8" fill="#24242c" font-weight="bold" stroke="#24242c" stroke-width="0.25" xml:space="preserve">3738.00</text>
<text transform="translate(862.85 421.16) scale(0.7217 1)" font-size="13.8" fill="#24242c" font-weight="bold" stroke="#24242c" stroke-width="0.25" xml:space="preserve">5550.70</text>
<text transform="translate(820.15 437.58) scale(0.7016 1)" font-size="13.8" fill="#24242c" font-weight="bold" stroke="#24242c" stroke-width="0.25" xml:space="preserve">3740.50</text>
<text transform="translate(862.85 437.58) scale(0.7217 1)" font-size="13.8" fill="#24242c" font-weight="bold" stroke="#24242c" stroke-width="0.25" xml:space="preserve">5554.50</text>
</g>
<clipPath id="cA2r"><rect x="777.5" y="400" width="161" height="41"/></clipPath>
<line x1="71.5" y1="147.8" x2="945" y2="494.8" stroke="#5b96d8" stroke-width="1.6" clip-path="url(#cA2r)"/>
<text transform="translate(21.5 272.3) rotate(-90) scale(0.8792 1)" x="-96.68" y="0" font-size="24" fill="#00008f" font-weight="bold" stroke="#00008f" stroke-width="0.45" xml:space="preserve">Depth (m,TVDss)</text>
<text transform="translate(413.6 570.5) scale(0.8932 1)" font-size="22.6" fill="#00008f" font-weight="bold" stroke="#00008f" stroke-width="0.45" xml:space="preserve">Pressure (PSI)</text>
</g>
<g id="panelB">
<rect x="1006.4" y="2" width="974.6" height="525" stroke="#3c3c3c" stroke-width="2" fill="#fff"/>
<line x1="1161.45" y1="23.1" x2="1161.45" y2="491" stroke="#c4c4c4" stroke-width="1.3"/>
<line x1="1276.9" y1="23.1" x2="1276.9" y2="491" stroke="#c4c4c4" stroke-width="1.3"/>
<line x1="1392.35" y1="23.1" x2="1392.35" y2="491" stroke="#c4c4c4" stroke-width="1.3"/>
<line x1="1507.8" y1="23.1" x2="1507.8" y2="491" stroke="#c4c4c4" stroke-width="1.3"/>
<line x1="1623.25" y1="23.1" x2="1623.25" y2="491" stroke="#c4c4c4" stroke-width="1.3"/>
<line x1="1738.7" y1="23.1" x2="1738.7" y2="491" stroke="#c4c4c4" stroke-width="1.3"/>
<line x1="1854.15" y1="23.1" x2="1854.15" y2="491" stroke="#c4c4c4" stroke-width="1.3"/>
<line x1="1969.6" y1="23.1" x2="1969.6" y2="491" stroke="#c4c4c4" stroke-width="1.3"/>
<line x1="1046.2" y1="179.25" x2="1970.3" y2="179.25" stroke="#c4c4c4" stroke-width="1.3"/>
<line x1="1046.2" y1="334.9" x2="1970.3" y2="334.9" stroke="#c4c4c4" stroke-width="1.3"/>
<line x1="1216.3" y1="24" x2="1236.5" y2="168" stroke="#333" stroke-width="1.1"/>
<line x1="1213.5" y1="24" x2="1278.6" y2="495" stroke="#ff0000" stroke-width="3"/>
<ellipse cx="1241.11" cy="215.36" rx="3" ry="4" fill="#0000e6" stroke="#00005a" stroke-width="1"/>
<ellipse cx="1241.46" cy="222.83" rx="3" ry="4" fill="#0000e6" stroke="#00005a" stroke-width="1"/>
<ellipse cx="1243.19" cy="235.28" rx="3" ry="4" fill="#0000e6" stroke="#00005a" stroke-width="1"/>
<ellipse cx="1244.92" cy="245.56" rx="3" ry="4" fill="#0000e6" stroke="#00005a" stroke-width="1"/>
<line x1="1213.5" y1="24" x2="1278.6" y2="495" stroke="#ff0000" stroke-width="2" opacity="0.85"/>
<line x1="1046.2" y1="23.1" x2="1970.3" y2="23.1" stroke="#707070" stroke-width="2.2"/>
<line x1="1970.3" y1="23.1" x2="1970.3" y2="495" stroke="#aaa" stroke-width="1.6"/>
<line x1="1046.2" y1="22.6" x2="1046.2" y2="492" stroke="#1a1a1a" stroke-width="2.2"/>
<line x1="1045.2" y1="491" x2="1970.8" y2="491" stroke="#1a1a1a" stroke-width="2.2"/>
<line x1="1046" y1="491" x2="1046" y2="492.8" stroke="#1a1a1a" stroke-width="1"/>
<line x1="1069.09" y1="491" x2="1069.09" y2="492.8" stroke="#1a1a1a" stroke-width="1"/>
<line x1="1092.18" y1="491" x2="1092.18" y2="492.8" stroke="#1a1a1a" stroke-width="1"/>
<line x1="1115.27" y1="491" x2="1115.27" y2="492.8" stroke="#1a1a1a" stroke-width="1"/>
<line x1="1138.36" y1="491" x2="1138.36" y2="492.8" stroke="#1a1a1a" stroke-width="1"/>
<line x1="1161.45" y1="491" x2="1161.45" y2="492.8" stroke="#1a1a1a" stroke-width="1"/>
<line x1="1184.54" y1="491" x2="1184.54" y2="492.8" stroke="#1a1a1a" stroke-width="1"/>
<line x1="1207.63" y1="491" x2="1207.63" y2="492.8" stroke="#1a1a1a" stroke-width="1"/>
<line x1="1230.72" y1="491" x2="1230.72" y2="492.8" stroke="#1a1a1a" stroke-width="1"/>
<line x1="1253.81" y1="491" x2="1253.81" y2="492.8" stroke="#1a1a1a" stroke-width="1"/>
<line x1="1276.9" y1="491" x2="1276.9" y2="492.8" stroke="#1a1a1a" stroke-width="1"/>
<line x1="1299.99" y1="491" x2="1299.99" y2="492.8" stroke="#1a1a1a" stroke-width="1"/>
<line x1="1323.08" y1="491" x2="1323.08" y2="492.8" stroke="#1a1a1a" stroke-width="1"/>
<line x1="1346.17" y1="491" x2="1346.17" y2="492.8" stroke="#1a1a1a" stroke-width="1"/>
<line x1="1369.26" y1="491" x2="1369.26" y2="492.8" stroke="#1a1a1a" stroke-width="1"/>
<line x1="1392.35" y1="491" x2="1392.35" y2="492.8" stroke="#1a1a1a" stroke-width="1"/>
<line x1="1415.44" y1="491" x2="1415.44" y2="492.8" stroke="#1a1a1a" stroke-width="1"/>
<line x1="1438.53" y1="491" x2="1438.53" y2="492.8" stroke="#1a1a1a" stroke-width="1"/>
<line x1="1461.62" y1="491" x2="1461.62" y2="492.8" stroke="#1a1a1a" stroke-width="1"/>
<line x1="1484.71" y1="491" x2="1484.71" y2="492.8" stroke="#1a1a1a" stroke-width="1"/>
<line x1="1507.8" y1="491" x2="1507.8" y2="492.8" stroke="#1a1a1a" stroke-width="1"/>
<line x1="1530.89" y1="491" x2="1530.89" y2="492.8" stroke="#1a1a1a" stroke-width="1"/>
<line x1="1553.98" y1="491" x2="1553.98" y2="492.8" stroke="#1a1a1a" stroke-width="1"/>
<line x1="1577.07" y1="491" x2="1577.07" y2="492.8" stroke="#1a1a1a" stroke-width="1"/>
<line x1="1600.16" y1="491" x2="1600.16" y2="492.8" stroke="#1a1a1a" stroke-width="1"/>
<line x1="1623.25" y1="491" x2="1623.25" y2="492.8" stroke="#1a1a1a" stroke-width="1"/>
<line x1="1646.34" y1="491" x2="1646.34" y2="492.8" stroke="#1a1a1a" stroke-width="1"/>
<line x1="1669.43" y1="491" x2="1669.43" y2="492.8" stroke="#1a1a1a" stroke-width="1"/>
<line x1="1692.52" y1="491" x2="1692.52" y2="492.8" stroke="#1a1a1a" stroke-width="1"/>
<line x1="1715.61" y1="491" x2="1715.61" y2="492.8" stroke="#1a1a1a" stroke-width="1"/>
<line x1="1738.7" y1="491" x2="1738.7" y2="492.8" stroke="#1a1a1a" stroke-width="1"/>
<line x1="1761.79" y1="491" x2="1761.79" y2="492.8" stroke="#1a1a1a" stroke-width="1"/>
<line x1="1784.88" y1="491" x2="1784.88" y2="492.8" stroke="#1a1a1a" stroke-width="1"/>
<line x1="1807.97" y1="491" x2="1807.97" y2="492.8" stroke="#1a1a1a" stroke-width="1"/>
<line x1="1831.06" y1="491" x2="1831.06" y2="492.8" stroke="#1a1a1a" stroke-width="1"/>
<line x1="1854.15" y1="491" x2="1854.15" y2="492.8" stroke="#1a1a1a" stroke-width="1"/>
<line x1="1877.24" y1="491" x2="1877.24" y2="492.8" stroke="#1a1a1a" stroke-width="1"/>
<line x1="1900.33" y1="491" x2="1900.33" y2="492.8" stroke="#1a1a1a" stroke-width="1"/>
<line x1="1923.42" y1="491" x2="1923.42" y2="492.8" stroke="#1a1a1a" stroke-width="1"/>
<line x1="1946.51" y1="491" x2="1946.51" y2="492.8" stroke="#1a1a1a" stroke-width="1"/>
<line x1="1969.6" y1="491" x2="1969.6" y2="492.8" stroke="#1a1a1a" stroke-width="1"/>
<line x1="1044.6" y1="23.6" x2="1046.2" y2="23.6" stroke="#1a1a1a" stroke-width="0.9"/>
<line x1="1044.6" y1="54.73" x2="1046.2" y2="54.73" stroke="#1a1a1a" stroke-width="0.9"/>
<line x1="1044.6" y1="85.86" x2="1046.2" y2="85.86" stroke="#1a1a1a" stroke-width="0.9"/>
<line x1="1044.6" y1="116.99" x2="1046.2" y2="116.99" stroke="#1a1a1a" stroke-width="0.9"/>
<line x1="1044.6" y1="148.12" x2="1046.2" y2="148.12" stroke="#1a1a1a" stroke-width="0.9"/>
<line x1="1044.6" y1="179.25" x2="1046.2" y2="179.25" stroke="#1a1a1a" stroke-width="0.9"/>
<line x1="1044.6" y1="210.38" x2="1046.2" y2="210.38" stroke="#1a1a1a" stroke-width="0.9"/>
<line x1="1044.6" y1="241.51" x2="1046.2" y2="241.51" stroke="#1a1a1a" stroke-width="0.9"/>
<line x1="1044.6" y1="272.64" x2="1046.2" y2="272.64" stroke="#1a1a1a" stroke-width="0.9"/>
<line x1="1044.6" y1="303.77" x2="1046.2" y2="303.77" stroke="#1a1a1a" stroke-width="0.9"/>
<line x1="1044.6" y1="334.9" x2="1046.2" y2="334.9" stroke="#1a1a1a" stroke-width="0.9"/>
<line x1="1044.6" y1="366.03" x2="1046.2" y2="366.03" stroke="#1a1a1a" stroke-width="0.9"/>
<line x1="1044.6" y1="397.16" x2="1046.2" y2="397.16" stroke="#1a1a1a" stroke-width="0.9"/>
<line x1="1044.6" y1="428.29" x2="1046.2" y2="428.29" stroke="#1a1a1a" stroke-width="0.9"/>
<line x1="1044.6" y1="459.42" x2="1046.2" y2="459.42" stroke="#1a1a1a" stroke-width="0.9"/>
<line x1="1044.6" y1="490.55" x2="1046.2" y2="490.55" stroke="#1a1a1a" stroke-width="0.9"/>
<line x1="1046" y1="491" x2="1046" y2="493.6" stroke="#1a1a1a" stroke-width="1.2"/>
<line x1="1161.45" y1="491" x2="1161.45" y2="493.6" stroke="#1a1a1a" stroke-width="1.2"/>
<line x1="1276.9" y1="491" x2="1276.9" y2="493.6" stroke="#1a1a1a" stroke-width="1.2"/>
<line x1="1392.35" y1="491" x2="1392.35" y2="493.6" stroke="#1a1a1a" stroke-width="1.2"/>
<line x1="1507.8" y1="491" x2="1507.8" y2="493.6" stroke="#1a1a1a" stroke-width="1.2"/>
<line x1="1623.25" y1="491" x2="1623.25" y2="493.6" stroke="#1a1a1a" stroke-width="1.2"/>
<line x1="1738.7" y1="491" x2="1738.7" y2="493.6" stroke="#1a1a1a" stroke-width="1.2"/>
<line x1="1854.15" y1="491" x2="1854.15" y2="493.6" stroke="#1a1a1a" stroke-width="1.2"/>
<line x1="1969.6" y1="491" x2="1969.6" y2="493.6" stroke="#1a1a1a" stroke-width="1.2"/>
<line x1="1043.6" y1="23.6" x2="1046.2" y2="23.6" stroke="#1a1a1a" stroke-width="1.2"/>
<line x1="1043.6" y1="179.25" x2="1046.2" y2="179.25" stroke="#1a1a1a" stroke-width="1.2"/>
<line x1="1043.6" y1="334.9" x2="1046.2" y2="334.9" stroke="#1a1a1a" stroke-width="1.2"/>
<line x1="1043.6" y1="490.55" x2="1046.2" y2="490.55" stroke="#1a1a1a" stroke-width="1.2"/>
<text transform="translate(1011.1 30) scale(0.7000 1)" font-size="18.3" fill="#1c1c1c" font-weight="bold" stroke="#1c1c1c" stroke-width="0.3" xml:space="preserve">3500</text>
<text transform="translate(1011.1 185.65) scale(0.7000 1)" font-size="18.3" fill="#1c1c1c" font-weight="bold" stroke="#1c1c1c" stroke-width="0.3" xml:space="preserve">3550</text>
<text transform="translate(1011.1 341.3) scale(0.7000 1)" font-size="18.3" fill="#1c1c1c" font-weight="bold" stroke="#1c1c1c" stroke-width="0.3" xml:space="preserve">3600</text>
<text transform="translate(1011.1 496.95) scale(0.7000 1)" font-size="18.3" fill="#1c1c1c" font-weight="bold" stroke="#1c1c1c" stroke-width="0.3" xml:space="preserve">3650</text>
<clipPath id="cBx"><rect x="1000" y="495" width="976.6" height="31.6"/></clipPath><g clip-path="url(#cBx)">
<text transform="translate(1031.75 513.2) scale(0.7000 1)" font-size="18.3" fill="#1c1c1c" font-weight="bold" stroke="#1c1c1c" stroke-width="0.3" xml:space="preserve">5200</text>
<text transform="translate(1147.2 513.2) scale(0.7000 1)" font-size="18.3" fill="#1c1c1c" font-weight="bold" stroke="#1c1c1c" stroke-width="0.3" xml:space="preserve">5300</text>
<text transform="translate(1262.65 513.2) scale(0.7000 1)" font-size="18.3" fill="#1c1c1c" font-weight="bold" stroke="#1c1c1c" stroke-width="0.3" xml:space="preserve">5400</text>
<text transform="translate(1378.1 513.2) scale(0.7000 1)" font-size="18.3" fill="#1c1c1c" font-weight="bold" stroke="#1c1c1c" stroke-width="0.3" xml:space="preserve">5500</text>
<text transform="translate(1493.55 513.2) scale(0.7000 1)" font-size="18.3" fill="#1c1c1c" font-weight="bold" stroke="#1c1c1c" stroke-width="0.3" xml:space="preserve">5600</text>
<text transform="translate(1609 513.2) scale(0.7000 1)" font-size="18.3" fill="#1c1c1c" font-weight="bold" stroke="#1c1c1c" stroke-width="0.3" xml:space="preserve">5700</text>
<text transform="translate(1724.45 513.2) scale(0.7000 1)" font-size="18.3" fill="#1c1c1c" font-weight="bold" stroke="#1c1c1c" stroke-width="0.3" xml:space="preserve">5800</text>
<text transform="translate(1839.9 513.2) scale(0.7000 1)" font-size="18.3" fill="#1c1c1c" font-weight="bold" stroke="#1c1c1c" stroke-width="0.3" xml:space="preserve">5900</text>
<text transform="translate(1955.35 513.2) scale(0.7000 1)" font-size="18.3" fill="#1c1c1c" font-weight="bold" stroke="#1c1c1c" stroke-width="0.3" xml:space="preserve">6000</text>
<text transform="translate(1472.23 529.9) scale(0.9300 1)" font-size="11.5" fill="#333" font-weight="bold" xml:space="preserve">Pressure(PSI)</text>
</g>
<line x1="1737.4" y1="106.7" x2="1819" y2="106.7" stroke="#ff0000" stroke-width="4.2"/>
<text transform="translate(1842.7 115.8) scale(1.0407 1)" font-size="23.6" fill="#ff0000" xml:space="preserve">Gas line</text>
<text transform="translate(1068.45 66.8) scale(0.8666 1)" font-size="44" fill="#000">B</text>
<rect x="1735.2" y="23.9" width="234.5" height="41.5" stroke="none" stroke-width="0" fill="#fff"/>
<line x1="1736.2" y1="66.7" x2="1970.7" y2="66.7" stroke="#a8a8a8" stroke-width="1.2"/>
<rect x="1735.2" y="23.9" width="234.5" height="22.5" stroke="#2a2a2a" stroke-width="1.5" fill="#fff"/>
<ellipse cx="1758.6" cy="35.3" rx="3.5" ry="4.5" fill="#0000e6" stroke="#00005a" stroke-width="1"/>
<text transform="translate(1782.25 40.85) scale(0.8119 1)" font-size="16.4" fill="#2a2a2e" stroke="#2a2a2e" stroke-width="0.25" xml:space="preserve">Jl63-1 ST-1(BALTIM EAST 2)</text>
<rect x="1735.2" y="46.4" width="234.5" height="19" stroke="#2a2a2a" stroke-width="1.5" fill="#fff"/>
<line x1="1740" y1="54.3" x2="1778" y2="54.3" stroke="#3a3a3a" stroke-width="1.2"/>
<text transform="translate(1782.25 59.85) scale(0.7948 1)" font-size="16.4" fill="#2a2a2e" stroke="#2a2a2e" stroke-width="0.25" xml:space="preserve">Y on X (G) 0.3489  (R) 0.98508</text>
<rect x="1293.7" y="135.1" width="167.8" height="182.4" stroke="#333" stroke-width="1.3" fill="#fff"/>
<line x1="1295.2" y1="318.7" x2="1462.5" y2="318.7" stroke="#aaa" stroke-width="1"/>
<line x1="1462.7" y1="136.6" x2="1462.7" y2="318.5" stroke="#bbb" stroke-width="1"/>
<clipPath id="cB1"><rect x="1293.7" y="135.1" width="167.4" height="182.4"/></clipPath>
<g clip-path="url(#cB1)">
<text transform="translate(1298.05 167.2) scale(0.8080 1)" font-size="13.8" fill="#24242c" font-weight="bold" stroke="#24242c" stroke-width="0.25" xml:space="preserve">Pressure Gradient : 0.106 psi/ft</text>
<text transform="translate(1307.65 182.7) scale(0.7982 1)" font-size="13.8" fill="#24242c" font-weight="bold" stroke="#24242c" stroke-width="0.25" xml:space="preserve">Fluid Density  : 0.2457 g/cc</text>
<text transform="translate(1304.95 216.3) scale(0.7965 1)" font-size="13.8" fill="#24242c" font-weight="bold" stroke="#24242c" stroke-width="0.25" xml:space="preserve">Jl63-1 ST-1(BALTIM EAST 2)</text>
<text transform="translate(1332.15 248.8) scale(0.7520 1)" font-size="13.8" fill="#24242c" font-weight="bold" stroke="#24242c" stroke-width="0.25" xml:space="preserve">Depth</text>
<text transform="translate(1380.65 248.8) scale(0.7600 1)" font-size="13.8" fill="#24242c" font-weight="bold" stroke="#24242c" stroke-width="0.25" xml:space="preserve">Pressure</text>
<text transform="translate(1336.95 264.3) scale(0.7597 1)" font-size="13.8" fill="#24242c" font-weight="bold" stroke="#24242c" stroke-width="0.25" xml:space="preserve">3561.60</text>
<text transform="translate(1382.85 264.3) scale(0.7597 1)" font-size="13.8" fill="#24242c" font-weight="bold" stroke="#24242c" stroke-width="0.25" xml:space="preserve">5369.00</text>
<text transform="translate(1336.95 280.65) scale(0.7597 1)" font-size="13.8" fill="#24242c" font-weight="bold" stroke="#24242c" stroke-width="0.25" xml:space="preserve">3564.00</text>
<text transform="translate(1382.85 280.65) scale(0.7597 1)" font-size="13.8" fill="#24242c" font-weight="bold" stroke="#24242c" stroke-width="0.25" xml:space="preserve">5369.30</text>
<text transform="translate(1336.95 297) scale(0.7597 1)" font-size="13.8" fill="#24242c" font-weight="bold" stroke="#24242c" stroke-width="0.25" xml:space="preserve">3568.00</text>
<text transform="translate(1382.85 297) scale(0.7597 1)" font-size="13.8" fill="#24242c" font-weight="bold" stroke="#24242c" stroke-width="0.25" xml:space="preserve">5370.80</text>
<text transform="translate(1336.95 313.35) scale(0.7597 1)" font-size="13.8" fill="#24242c" font-weight="bold" stroke="#24242c" stroke-width="0.25" xml:space="preserve">3571.30</text>
<text transform="translate(1382.85 313.35) scale(0.7597 1)" font-size="13.8" fill="#24242c" font-weight="bold" stroke="#24242c" stroke-width="0.25" xml:space="preserve">5372.30</text>
</g>
<text transform="translate(977.4 266) rotate(-90) scale(0.9208 1)" x="-98.29" y="0" font-size="24.4" fill="#00008f" font-weight="bold" stroke="#00008f" stroke-width="0.45" xml:space="preserve">Depth (m,TVDss)</text>
<text transform="translate(1371.95 568.9) scale(0.9322 1)" font-size="23.3" fill="#00008f" font-weight="bold" stroke="#00008f" stroke-width="0.45" xml:space="preserve">Pressure (PSI)</text>
</g>
<g id="panelC">
<rect x="42.1" y="652.3" width="904.5" height="504.7" stroke="#404040" stroke-width="2" fill="#fff"/>
<line x1="165.64" y1="673.6" x2="165.64" y2="1131.2" stroke="#c4c4c4" stroke-width="1.3"/>
<line x1="251.28" y1="673.6" x2="251.28" y2="1131.2" stroke="#c4c4c4" stroke-width="1.3"/>
<line x1="336.92" y1="673.6" x2="336.92" y2="1131.2" stroke="#c4c4c4" stroke-width="1.3"/>
<line x1="422.56" y1="673.6" x2="422.56" y2="1131.2" stroke="#c4c4c4" stroke-width="1.3"/>
<line x1="508.2" y1="673.6" x2="508.2" y2="1131.2" stroke="#c4c4c4" stroke-width="1.3"/>
<line x1="593.84" y1="673.6" x2="593.84" y2="1131.2" stroke="#c4c4c4" stroke-width="1.3"/>
<line x1="679.48" y1="673.6" x2="679.48" y2="1131.2" stroke="#c4c4c4" stroke-width="1.3"/>
<line x1="765.12" y1="673.6" x2="765.12" y2="1131.2" stroke="#c4c4c4" stroke-width="1.3"/>
<line x1="850.76" y1="673.6" x2="850.76" y2="1131.2" stroke="#c4c4c4" stroke-width="1.3"/>
<line x1="936.4" y1="673.6" x2="936.4" y2="1131.2" stroke="#c4c4c4" stroke-width="1.3"/>
<line x1="80.3" y1="719.28" x2="936.6" y2="719.28" stroke="#c4c4c4" stroke-width="1.3"/>
<line x1="80.3" y1="764.96" x2="936.6" y2="764.96" stroke="#c4c4c4" stroke-width="1.3"/>
<line x1="80.3" y1="810.64" x2="936.6" y2="810.64" stroke="#c4c4c4" stroke-width="1.3"/>
<line x1="80.3" y1="856.32" x2="936.6" y2="856.32" stroke="#c4c4c4" stroke-width="1.3"/>
<line x1="80.3" y1="902" x2="936.6" y2="902" stroke="#c4c4c4" stroke-width="1.3"/>
<line x1="80.3" y1="947.68" x2="936.6" y2="947.68" stroke="#c4c4c4" stroke-width="1.3"/>
<line x1="80.3" y1="993.36" x2="936.6" y2="993.36" stroke="#c4c4c4" stroke-width="1.3"/>
<line x1="80.3" y1="1039.04" x2="936.6" y2="1039.04" stroke="#c4c4c4" stroke-width="1.3"/>
<line x1="80.3" y1="1084.72" x2="936.6" y2="1084.72" stroke="#c4c4c4" stroke-width="1.3"/>
<line x1="240" y1="673.6" x2="552.2" y2="1136" stroke="#333" stroke-width="1.4"/>
<line x1="241.3" y1="673.6" x2="554" y2="1136.5" stroke="#ff0000" stroke-width="3.6"/>
<ellipse cx="361.76" cy="828.91" rx="3" ry="4" fill="#0000e6" stroke="#00005a" stroke-width="1"/>
<ellipse cx="370.32" cy="851.75" rx="3" ry="4" fill="#0000e6" stroke="#00005a" stroke-width="1"/>
<ellipse cx="370.32" cy="874.59" rx="3" ry="4" fill="#0000e6" stroke="#00005a" stroke-width="1"/>
<ellipse cx="388.3" cy="892.86" rx="3" ry="4" fill="#0000e6" stroke="#00005a" stroke-width="1"/>
<ellipse cx="401.15" cy="906.57" rx="3" ry="4" fill="#0000e6" stroke="#00005a" stroke-width="1"/>
<ellipse cx="422.56" cy="947.68" rx="3" ry="4" fill="#0000e6" stroke="#00005a" stroke-width="1"/>
<ellipse cx="439.69" cy="975.09" rx="3" ry="4" fill="#0000e6" stroke="#00005a" stroke-width="1"/>
<ellipse cx="448.25" cy="984.22" rx="3" ry="4" fill="#0000e6" stroke="#00005a" stroke-width="1"/>
<ellipse cx="456.82" cy="993.36" rx="3" ry="4" fill="#0000e6" stroke="#00005a" stroke-width="1"/>
<line x1="241.3" y1="673.6" x2="554" y2="1136.5" stroke="#ff0000" stroke-width="2.6" opacity="0.85"/>
<line x1="80.3" y1="673.6" x2="936.6" y2="673.6" stroke="#3c3c3c" stroke-width="1.8"/>
<line x1="936.6" y1="673.6" x2="936.6" y2="1135.2" stroke="#aaa" stroke-width="1.6"/>
<line x1="80.3" y1="673.1" x2="80.3" y2="1132.2" stroke="#1a1a1a" stroke-width="2.2"/>
<line x1="79.3" y1="1131.2" x2="937.1" y2="1131.2" stroke="#1a1a1a" stroke-width="2.2"/>
<line x1="80" y1="1131.2" x2="80" y2="1133" stroke="#1a1a1a" stroke-width="1"/>
<line x1="97.13" y1="1131.2" x2="97.13" y2="1133" stroke="#1a1a1a" stroke-width="1"/>
<line x1="114.26" y1="1131.2" x2="114.26" y2="1133" stroke="#1a1a1a" stroke-width="1"/>
<line x1="131.38" y1="1131.2" x2="131.38" y2="1133" stroke="#1a1a1a" stroke-width="1"/>
<line x1="148.51" y1="1131.2" x2="148.51" y2="1133" stroke="#1a1a1a" stroke-width="1"/>
<line x1="165.64" y1="1131.2" x2="165.64" y2="1133" stroke="#1a1a1a" stroke-width="1"/>
<line x1="182.77" y1="1131.2" x2="182.77" y2="1133" stroke="#1a1a1a" stroke-width="1"/>
<line x1="199.9" y1="1131.2" x2="199.9" y2="1133" stroke="#1a1a1a" stroke-width="1"/>
<line x1="217.02" y1="1131.2" x2="217.02" y2="1133" stroke="#1a1a1a" stroke-width="1"/>
<line x1="234.15" y1="1131.2" x2="234.15" y2="1133" stroke="#1a1a1a" stroke-width="1"/>
<line x1="251.28" y1="1131.2" x2="251.28" y2="1133" stroke="#1a1a1a" stroke-width="1"/>
<line x1="268.41" y1="1131.2" x2="268.41" y2="1133" stroke="#1a1a1a" stroke-width="1"/>
<line x1="285.54" y1="1131.2" x2="285.54" y2="1133" stroke="#1a1a1a" stroke-width="1"/>
<line x1="302.66" y1="1131.2" x2="302.66" y2="1133" stroke="#1a1a1a" stroke-width="1"/>
<line x1="319.79" y1="1131.2" x2="319.79" y2="1133" stroke="#1a1a1a" stroke-width="1"/>
<line x1="336.92" y1="1131.2" x2="336.92" y2="1133" stroke="#1a1a1a" stroke-width="1"/>
<line x1="354.05" y1="1131.2" x2="354.05" y2="1133" stroke="#1a1a1a" stroke-width="1"/>
<line x1="371.18" y1="1131.2" x2="371.18" y2="1133" stroke="#1a1a1a" stroke-width="1"/>
<line x1="388.3" y1="1131.2" x2="388.3" y2="1133" stroke="#1a1a1a" stroke-width="1"/>
<line x1="405.43" y1="1131.2" x2="405.43" y2="1133" stroke="#1a1a1a" stroke-width="1"/>
<line x1="422.56" y1="1131.2" x2="422.56" y2="1133" stroke="#1a1a1a" stroke-width="1"/>
<line x1="439.69" y1="1131.2" x2="439.69" y2="1133" stroke="#1a1a1a" stroke-width="1"/>
<line x1="456.82" y1="1131.2" x2="456.82" y2="1133" stroke="#1a1a1a" stroke-width="1"/>
<line x1="473.94" y1="1131.2" x2="473.94" y2="1133" stroke="#1a1a1a" stroke-width="1"/>
<line x1="491.07" y1="1131.2" x2="491.07" y2="1133" stroke="#1a1a1a" stroke-width="1"/>
<line x1="508.2" y1="1131.2" x2="508.2" y2="1133" stroke="#1a1a1a" stroke-width="1"/>
<line x1="525.33" y1="1131.2" x2="525.33" y2="1133" stroke="#1a1a1a" stroke-width="1"/>
<line x1="542.46" y1="1131.2" x2="542.46" y2="1133" stroke="#1a1a1a" stroke-width="1"/>
<line x1="559.58" y1="1131.2" x2="559.58" y2="1133" stroke="#1a1a1a" stroke-width="1"/>
<line x1="576.71" y1="1131.2" x2="576.71" y2="1133" stroke="#1a1a1a" stroke-width="1"/>
<line x1="593.84" y1="1131.2" x2="593.84" y2="1133" stroke="#1a1a1a" stroke-width="1"/>
<line x1="610.97" y1="1131.2" x2="610.97" y2="1133" stroke="#1a1a1a" stroke-width="1"/>
<line x1="628.1" y1="1131.2" x2="628.1" y2="1133" stroke="#1a1a1a" stroke-width="1"/>
<line x1="645.22" y1="1131.2" x2="645.22" y2="1133" stroke="#1a1a1a" stroke-width="1"/>
<line x1="662.35" y1="1131.2" x2="662.35" y2="1133" stroke="#1a1a1a" stroke-width="1"/>
<line x1="679.48" y1="1131.2" x2="679.48" y2="1133" stroke="#1a1a1a" stroke-width="1"/>
<line x1="696.61" y1="1131.2" x2="696.61" y2="1133" stroke="#1a1a1a" stroke-width="1"/>
<line x1="713.74" y1="1131.2" x2="713.74" y2="1133" stroke="#1a1a1a" stroke-width="1"/>
<line x1="730.86" y1="1131.2" x2="730.86" y2="1133" stroke="#1a1a1a" stroke-width="1"/>
<line x1="747.99" y1="1131.2" x2="747.99" y2="1133" stroke="#1a1a1a" stroke-width="1"/>
<line x1="765.12" y1="1131.2" x2="765.12" y2="1133" stroke="#1a1a1a" stroke-width="1"/>
<line x1="782.25" y1="1131.2" x2="782.25" y2="1133" stroke="#1a1a1a" stroke-width="1"/>
<line x1="799.38" y1="1131.2" x2="799.38" y2="1133" stroke="#1a1a1a" stroke-width="1"/>
<line x1="816.5" y1="1131.2" x2="816.5" y2="1133" stroke="#1a1a1a" stroke-width="1"/>
<line x1="833.63" y1="1131.2" x2="833.63" y2="1133" stroke="#1a1a1a" stroke-width="1"/>
<line x1="850.76" y1="1131.2" x2="850.76" y2="1133" stroke="#1a1a1a" stroke-width="1"/>
<line x1="867.89" y1="1131.2" x2="867.89" y2="1133" stroke="#1a1a1a" stroke-width="1"/>
<line x1="885.02" y1="1131.2" x2="885.02" y2="1133" stroke="#1a1a1a" stroke-width="1"/>
<line x1="902.14" y1="1131.2" x2="902.14" y2="1133" stroke="#1a1a1a" stroke-width="1"/>
<line x1="919.27" y1="1131.2" x2="919.27" y2="1133" stroke="#1a1a1a" stroke-width="1"/>
<line x1="936.4" y1="1131.2" x2="936.4" y2="1133" stroke="#1a1a1a" stroke-width="1"/>
<line x1="78.7" y1="673.6" x2="80.3" y2="673.6" stroke="#1a1a1a" stroke-width="0.9"/>
<line x1="78.7" y1="682.74" x2="80.3" y2="682.74" stroke="#1a1a1a" stroke-width="0.9"/>
<line x1="78.7" y1="691.87" x2="80.3" y2="691.87" stroke="#1a1a1a" stroke-width="0.9"/>
<line x1="78.7" y1="701.01" x2="80.3" y2="701.01" stroke="#1a1a1a" stroke-width="0.9"/>
<line x1="78.7" y1="710.14" x2="80.3" y2="710.14" stroke="#1a1a1a" stroke-width="0.9"/>
<line x1="78.7" y1="719.28" x2="80.3" y2="719.28" stroke="#1a1a1a" stroke-width="0.9"/>
<line x1="78.7" y1="728.42" x2="80.3" y2="728.42" stroke="#1a1a1a" stroke-width="0.9"/>
<line x1="78.7" y1="737.55" x2="80.3" y2="737.55" stroke="#1a1a1a" stroke-width="0.9"/>
<line x1="78.7" y1="746.69" x2="80.3" y2="746.69" stroke="#1a1a1a" stroke-width="0.9"/>
<line x1="78.7" y1="755.82" x2="80.3" y2="755.82" stroke="#1a1a1a" stroke-width="0.9"/>
<line x1="78.7" y1="764.96" x2="80.3" y2="764.96" stroke="#1a1a1a" stroke-width="0.9"/>
<line x1="78.7" y1="774.1" x2="80.3" y2="774.1" stroke="#1a1a1a" stroke-width="0.9"/>
<line x1="78.7" y1="783.23" x2="80.3" y2="783.23" stroke="#1a1a1a" stroke-width="0.9"/>
<line x1="78.7" y1="792.37" x2="80.3" y2="792.37" stroke="#1a1a1a" stroke-width="0.9"/>
<line x1="78.7" y1="801.5" x2="80.3" y2="801.5" stroke="#1a1a1a" stroke-width="0.9"/>
<line x1="78.7" y1="810.64" x2="80.3" y2="810.64" stroke="#1a1a1a" stroke-width="0.9"/>
<line x1="78.7" y1="819.78" x2="80.3" y2="819.78" stroke="#1a1a1a" stroke-width="0.9"/>
<line x1="78.7" y1="828.91" x2="80.3" y2="828.91" stroke="#1a1a1a" stroke-width="0.9"/>
<line x1="78.7" y1="838.05" x2="80.3" y2="838.05" stroke="#1a1a1a" stroke-width="0.9"/>
<line x1="78.7" y1="847.18" x2="80.3" y2="847.18" stroke="#1a1a1a" stroke-width="0.9"/>
<line x1="78.7" y1="856.32" x2="80.3" y2="856.32" stroke="#1a1a1a" stroke-width="0.9"/>
<line x1="78.7" y1="865.46" x2="80.3" y2="865.46" stroke="#1a1a1a" stroke-width="0.9"/>
<line x1="78.7" y1="874.59" x2="80.3" y2="874.59" stroke="#1a1a1a" stroke-width="0.9"/>
<line x1="78.7" y1="883.73" x2="80.3" y2="883.73" stroke="#1a1a1a" stroke-width="0.9"/>
<line x1="78.7" y1="892.86" x2="80.3" y2="892.86" stroke="#1a1a1a" stroke-width="0.9"/>
<line x1="78.7" y1="902" x2="80.3" y2="902" stroke="#1a1a1a" stroke-width="0.9"/>
<line x1="78.7" y1="911.14" x2="80.3" y2="911.14" stroke="#1a1a1a" stroke-width="0.9"/>
<line x1="78.7" y1="920.27" x2="80.3" y2="920.27" stroke="#1a1a1a" stroke-width="0.9"/>
<line x1="78.7" y1="929.41" x2="80.3" y2="929.41" stroke="#1a1a1a" stroke-width="0.9"/>
<line x1="78.7" y1="938.54" x2="80.3" y2="938.54" stroke="#1a1a1a" stroke-width="0.9"/>
<line x1="78.7" y1="947.68" x2="80.3" y2="947.68" stroke="#1a1a1a" stroke-width="0.9"/>
<line x1="78.7" y1="956.82" x2="80.3" y2="956.82" stroke="#1a1a1a" stroke-width="0.9"/>
<line x1="78.7" y1="965.95" x2="80.3" y2="965.95" stroke="#1a1a1a" stroke-width="0.9"/>
<line x1="78.7" y1="975.09" x2="80.3" y2="975.09" stroke="#1a1a1a" stroke-width="0.9"/>
<line x1="78.7" y1="984.22" x2="80.3" y2="984.22" stroke="#1a1a1a" stroke-width="0.9"/>
<line x1="78.7" y1="993.36" x2="80.3" y2="993.36" stroke="#1a1a1a" stroke-width="0.9"/>
<line x1="78.7" y1="1002.5" x2="80.3" y2="1002.5" stroke="#1a1a1a" stroke-width="0.9"/>
<line x1="78.7" y1="1011.63" x2="80.3" y2="1011.63" stroke="#1a1a1a" stroke-width="0.9"/>
<line x1="78.7" y1="1020.77" x2="80.3" y2="1020.77" stroke="#1a1a1a" stroke-width="0.9"/>
<line x1="78.7" y1="1029.9" x2="80.3" y2="1029.9" stroke="#1a1a1a" stroke-width="0.9"/>
<line x1="78.7" y1="1039.04" x2="80.3" y2="1039.04" stroke="#1a1a1a" stroke-width="0.9"/>
<line x1="78.7" y1="1048.18" x2="80.3" y2="1048.18" stroke="#1a1a1a" stroke-width="0.9"/>
<line x1="78.7" y1="1057.31" x2="80.3" y2="1057.31" stroke="#1a1a1a" stroke-width="0.9"/>
<line x1="78.7" y1="1066.45" x2="80.3" y2="1066.45" stroke="#1a1a1a" stroke-width="0.9"/>
<line x1="78.7" y1="1075.58" x2="80.3" y2="1075.58" stroke="#1a1a1a" stroke-width="0.9"/>
<line x1="78.7" y1="1084.72" x2="80.3" y2="1084.72" stroke="#1a1a1a" stroke-width="0.9"/>
<line x1="78.7" y1="1093.86" x2="80.3" y2="1093.86" stroke="#1a1a1a" stroke-width="0.9"/>
<line x1="78.7" y1="1102.99" x2="80.3" y2="1102.99" stroke="#1a1a1a" stroke-width="0.9"/>
<line x1="78.7" y1="1112.13" x2="80.3" y2="1112.13" stroke="#1a1a1a" stroke-width="0.9"/>
<line x1="78.7" y1="1121.26" x2="80.3" y2="1121.26" stroke="#1a1a1a" stroke-width="0.9"/>
<line x1="78.7" y1="1130.4" x2="80.3" y2="1130.4" stroke="#1a1a1a" stroke-width="0.9"/>
<line x1="80" y1="1131.2" x2="80" y2="1133.8" stroke="#1a1a1a" stroke-width="1.2"/>
<line x1="165.64" y1="1131.2" x2="165.64" y2="1133.8" stroke="#1a1a1a" stroke-width="1.2"/>
<line x1="251.28" y1="1131.2" x2="251.28" y2="1133.8" stroke="#1a1a1a" stroke-width="1.2"/>
<line x1="336.92" y1="1131.2" x2="336.92" y2="1133.8" stroke="#1a1a1a" stroke-width="1.2"/>
<line x1="422.56" y1="1131.2" x2="422.56" y2="1133.8" stroke="#1a1a1a" stroke-width="1.2"/>
<line x1="508.2" y1="1131.2" x2="508.2" y2="1133.8" stroke="#1a1a1a" stroke-width="1.2"/>
<line x1="593.84" y1="1131.2" x2="593.84" y2="1133.8" stroke="#1a1a1a" stroke-width="1.2"/>
<line x1="679.48" y1="1131.2" x2="679.48" y2="1133.8" stroke="#1a1a1a" stroke-width="1.2"/>
<line x1="765.12" y1="1131.2" x2="765.12" y2="1133.8" stroke="#1a1a1a" stroke-width="1.2"/>
<line x1="850.76" y1="1131.2" x2="850.76" y2="1133.8" stroke="#1a1a1a" stroke-width="1.2"/>
<line x1="936.4" y1="1131.2" x2="936.4" y2="1133.8" stroke="#1a1a1a" stroke-width="1.2"/>
<line x1="77.7" y1="673.6" x2="80.3" y2="673.6" stroke="#1a1a1a" stroke-width="1.2"/>
<line x1="77.7" y1="719.28" x2="80.3" y2="719.28" stroke="#1a1a1a" stroke-width="1.2"/>
<line x1="77.7" y1="764.96" x2="80.3" y2="764.96" stroke="#1a1a1a" stroke-width="1.2"/>
<line x1="77.7" y1="810.64" x2="80.3" y2="810.64" stroke="#1a1a1a" stroke-width="1.2"/>
<line x1="77.7" y1="856.32" x2="80.3" y2="856.32" stroke="#1a1a1a" stroke-width="1.2"/>
<line x1="77.7" y1="902" x2="80.3" y2="902" stroke="#1a1a1a" stroke-width="1.2"/>
<line x1="77.7" y1="947.68" x2="80.3" y2="947.68" stroke="#1a1a1a" stroke-width="1.2"/>
<line x1="77.7" y1="993.36" x2="80.3" y2="993.36" stroke="#1a1a1a" stroke-width="1.2"/>
<line x1="77.7" y1="1039.04" x2="80.3" y2="1039.04" stroke="#1a1a1a" stroke-width="1.2"/>
<line x1="77.7" y1="1084.72" x2="80.3" y2="1084.72" stroke="#1a1a1a" stroke-width="1.2"/>
<line x1="77.7" y1="1130.4" x2="80.3" y2="1130.4" stroke="#1a1a1a" stroke-width="1.2"/>
<text transform="translate(46.2 680) scale(0.7000 1)" font-size="18.3" fill="#1c1c1c" font-weight="bold" stroke="#1c1c1c" stroke-width="0.3" xml:space="preserve">3600</text>
<text transform="translate(46.2 725.68) scale(0.7000 1)" font-size="18.3" fill="#1c1c1c" font-weight="bold" stroke="#1c1c1c" stroke-width="0.3" xml:space="preserve">3610</text>
<text transform="translate(46.2 771.36) scale(0.7000 1)" font-size="18.3" fill="#1c1c1c" font-weight="bold" stroke="#1c1c1c" stroke-width="0.3" xml:space="preserve">3620</text>
<text transform="translate(46.2 817.04) scale(0.7000 1)" font-size="18.3" fill="#1c1c1c" font-weight="bold" stroke="#1c1c1c" stroke-width="0.3" xml:space="preserve">3630</text>
<text transform="translate(46.2 862.72) scale(0.7000 1)" font-size="18.3" fill="#1c1c1c" font-weight="bold" stroke="#1c1c1c" stroke-width="0.3" xml:space="preserve">3640</text>
<text transform="translate(46.2 908.4) scale(0.7000 1)" font-size="18.3" fill="#1c1c1c" font-weight="bold" stroke="#1c1c1c" stroke-width="0.3" xml:space="preserve">3650</text>
<text transform="translate(46.2 954.08) scale(0.7000 1)" font-size="18.3" fill="#1c1c1c" font-weight="bold" stroke="#1c1c1c" stroke-width="0.3" xml:space="preserve">3660</text>
<text transform="translate(46.2 999.76) scale(0.7000 1)" font-size="18.3" fill="#1c1c1c" font-weight="bold" stroke="#1c1c1c" stroke-width="0.3" xml:space="preserve">3670</text>
<text transform="translate(46.2 1045.44) scale(0.7000 1)" font-size="18.3" fill="#1c1c1c" font-weight="bold" stroke="#1c1c1c" stroke-width="0.3" xml:space="preserve">3680</text>
<text transform="translate(46.2 1091.12) scale(0.7000 1)" font-size="18.3" fill="#1c1c1c" font-weight="bold" stroke="#1c1c1c" stroke-width="0.3" xml:space="preserve">3690</text>
<text transform="translate(46.2 1136.8) scale(0.7000 1)" font-size="18.3" fill="#1c1c1c" font-weight="bold" stroke="#1c1c1c" stroke-width="0.3" xml:space="preserve">3700</text>
<clipPath id="cCx"><rect x="40" y="1135" width="902.5" height="21"/></clipPath><g clip-path="url(#cCx)">
<text transform="translate(65.75 1153.4) scale(0.7000 1)" font-size="18.3" fill="#1c1c1c" font-weight="bold" stroke="#1c1c1c" stroke-width="0.3" xml:space="preserve">5350</text>
<text transform="translate(151.39 1153.4) scale(0.7000 1)" font-size="18.3" fill="#1c1c1c" font-weight="bold" stroke="#1c1c1c" stroke-width="0.3" xml:space="preserve">5360</text>
<text transform="translate(237.03 1153.4) scale(0.7000 1)" font-size="18.3" fill="#1c1c1c" font-weight="bold" stroke="#1c1c1c" stroke-width="0.3" xml:space="preserve">5370</text>
<text transform="translate(322.67 1153.4) scale(0.7000 1)" font-size="18.3" fill="#1c1c1c" font-weight="bold" stroke="#1c1c1c" stroke-width="0.3" xml:space="preserve">5380</text>
<text transform="translate(408.31 1153.4) scale(0.7000 1)" font-size="18.3" fill="#1c1c1c" font-weight="bold" stroke="#1c1c1c" stroke-width="0.3" xml:space="preserve">5390</text>
<text transform="translate(493.95 1153.4) scale(0.7000 1)" font-size="18.3" fill="#1c1c1c" font-weight="bold" stroke="#1c1c1c" stroke-width="0.3" xml:space="preserve">5400</text>
<text transform="translate(579.59 1153.4) scale(0.7000 1)" font-size="18.3" fill="#1c1c1c" font-weight="bold" stroke="#1c1c1c" stroke-width="0.3" xml:space="preserve">5410</text>
<text transform="translate(665.23 1153.4) scale(0.7000 1)" font-size="18.3" fill="#1c1c1c" font-weight="bold" stroke="#1c1c1c" stroke-width="0.3" xml:space="preserve">5420</text>
<text transform="translate(750.87 1153.4) scale(0.7000 1)" font-size="18.3" fill="#1c1c1c" font-weight="bold" stroke="#1c1c1c" stroke-width="0.3" xml:space="preserve">5430</text>
<text transform="translate(836.51 1153.4) scale(0.7000 1)" font-size="18.3" fill="#1c1c1c" font-weight="bold" stroke="#1c1c1c" stroke-width="0.3" xml:space="preserve">5440</text>
<text transform="translate(922.15 1153.4) scale(0.7000 1)" font-size="18.3" fill="#1c1c1c" font-weight="bold" stroke="#1c1c1c" stroke-width="0.3" xml:space="preserve">5450</text>
</g>
<line x1="716.5" y1="762.6" x2="799" y2="762.6" stroke="#ff0000" stroke-width="4.2"/>
<text transform="translate(821.5 770.5) scale(1.0384 1)" font-size="23.6" fill="#ff0000" xml:space="preserve">Gas line</text>
<text transform="translate(96.46 723.7) scale(0.8375 1)" font-size="44" fill="#000">C</text>
<rect x="709.5" y="674" width="226.7" height="42.3" stroke="none" stroke-width="0" fill="#fff"/>
<line x1="710.5" y1="717.6" x2="937.2" y2="717.6" stroke="#a8a8a8" stroke-width="1.2"/>
<rect x="709.5" y="674" width="226.7" height="21.5" stroke="#2a2a2a" stroke-width="1.5" fill="#fff"/>
<ellipse cx="731.8" cy="684.7" rx="3.5" ry="4.5" fill="#0000e6" stroke="#00005a" stroke-width="1"/>
<text transform="translate(754.65 690.05) scale(0.7532 1)" font-size="16.4" fill="#2a2a2e" stroke="#2a2a2e" stroke-width="0.25" xml:space="preserve">Jh63-2 (BALTIM EAST 3)</text>
<rect x="709.5" y="695.5" width="226.7" height="20.8" stroke="#2a2a2a" stroke-width="1.5" fill="#fff"/>
<line x1="714.1" y1="704.7" x2="751.2" y2="704.7" stroke="#3a3a3a" stroke-width="1.2"/>
<text transform="translate(754.65 709.65) scale(0.7413 1)" font-size="16.4" fill="#2a2a2e" stroke="#2a2a2e" stroke-width="0.25" xml:space="preserve">Y on X (G) 0.3623  (R) 0.995849</text>
<rect x="181.5" y="827.5" width="156.1" height="211.7" stroke="#333" stroke-width="1.3" fill="#fff"/>
<line x1="183" y1="1040.4" x2="338.6" y2="1040.4" stroke="#aaa" stroke-width="1"/>
<line x1="338.8" y1="829" x2="338.8" y2="1040.2" stroke="#bbb" stroke-width="1"/>
<clipPath id="cC1"><rect x="181.5" y="827.5" width="155.7" height="211.7"/></clipPath>
<g clip-path="url(#cC1)">
<text transform="translate(185.55 842.9) scale(0.7476 1)" font-size="13.8" fill="#24242c" font-weight="bold" stroke="#24242c" stroke-width="0.25" xml:space="preserve">Pressure Gradient : 0.119 psi/ft</text>
<text transform="translate(194.65 858.3) scale(0.7432 1)" font-size="13.8" fill="#24242c" font-weight="bold" stroke="#24242c" stroke-width="0.25" xml:space="preserve">Fluid Density  : 0.2530 g/cc</text>
<text transform="translate(202.15 890.9) scale(0.7331 1)" font-size="13.8" fill="#24242c" font-weight="bold" stroke="#24242c" stroke-width="0.25" xml:space="preserve">Jh63-2 (BALTIM EAST 3)</text>
<text transform="translate(216.85 922.8) scale(0.7392 1)" font-size="13.8" fill="#24242c" font-weight="bold" stroke="#24242c" stroke-width="0.25" xml:space="preserve">Depth</text>
<text transform="translate(261.65 922.8) scale(0.7245 1)" font-size="13.8" fill="#24242c" font-weight="bold" stroke="#24242c" stroke-width="0.25" xml:space="preserve">Pressure</text>
<text transform="translate(221.65 938.5) scale(0.6916 1)" font-size="13.8" fill="#24242c" font-weight="bold" stroke="#24242c" stroke-width="0.25" xml:space="preserve">3644.00</text>
<text transform="translate(264.25 938.5) scale(0.7036 1)" font-size="13.8" fill="#24242c" font-weight="bold" stroke="#24242c" stroke-width="0.25" xml:space="preserve">5384.00</text>
<text transform="translate(221.65 954.47) scale(0.6916 1)" font-size="13.8" fill="#24242c" font-weight="bold" stroke="#24242c" stroke-width="0.25" xml:space="preserve">3648.00</text>
<text transform="translate(264.25 954.47) scale(0.7036 1)" font-size="13.8" fill="#24242c" font-weight="bold" stroke="#24242c" stroke-width="0.25" xml:space="preserve">5386.00</text>
<text transform="translate(221.65 970.44) scale(0.6916 1)" font-size="13.8" fill="#24242c" font-weight="bold" stroke="#24242c" stroke-width="0.25" xml:space="preserve">3651.00</text>
<text transform="translate(264.25 970.44) scale(0.7036 1)" font-size="13.8" fill="#24242c" font-weight="bold" stroke="#24242c" stroke-width="0.25" xml:space="preserve">5387.50</text>
<text transform="translate(221.65 986.41) scale(0.6916 1)" font-size="13.8" fill="#24242c" font-weight="bold" stroke="#24242c" stroke-width="0.25" xml:space="preserve">3660.00</text>
<text transform="translate(264.25 986.41) scale(0.7036 1)" font-size="13.8" fill="#24242c" font-weight="bold" stroke="#24242c" stroke-width="0.25" xml:space="preserve">5390.00</text>
<text transform="translate(221.65 1002.38) scale(0.6916 1)" font-size="13.8" fill="#24242c" font-weight="bold" stroke="#24242c" stroke-width="0.25" xml:space="preserve">3666.00</text>
<text transform="translate(264.25 1002.38) scale(0.7036 1)" font-size="13.8" fill="#24242c" font-weight="bold" stroke="#24242c" stroke-width="0.25" xml:space="preserve">5392.00</text>
<text transform="translate(221.65 1018.35) scale(0.6916 1)" font-size="13.8" fill="#24242c" font-weight="bold" stroke="#24242c" stroke-width="0.25" xml:space="preserve">3668.00</text>
<text transform="translate(264.25 1018.35) scale(0.7036 1)" font-size="13.8" fill="#24242c" font-weight="bold" stroke="#24242c" stroke-width="0.25" xml:space="preserve">5393.00</text>
<text transform="translate(221.65 1034.32) scale(0.6916 1)" font-size="13.8" fill="#24242c" font-weight="bold" stroke="#24242c" stroke-width="0.25" xml:space="preserve">3670.00</text>
<text transform="translate(264.25 1034.32) scale(0.7036 1)" font-size="13.8" fill="#24242c" font-weight="bold" stroke="#24242c" stroke-width="0.25" xml:space="preserve">5394.00</text>
</g>
<text transform="translate(24.7 907.1) rotate(-90) scale(0.8801 1)" x="-98.29" y="0" font-size="24.4" fill="#00008f" font-weight="bold" stroke="#00008f" stroke-width="0.45" xml:space="preserve">Depth (m,TVDss)</text>
<text transform="translate(414.5 1191.2) scale(0.8789 1)" font-size="23.3" fill="#00008f" font-weight="bold" stroke="#00008f" stroke-width="0.45" xml:space="preserve">Pressure (PSI)</text>
</g>
<g id="panelD">
<rect x="1006" y="644.8" width="964.1" height="501.5" stroke="#3c3c3c" stroke-width="2" fill="#fff"/>
<line x1="1122.6" y1="673.8" x2="1122.6" y2="1120.3" stroke="#c4c4c4" stroke-width="1.3"/>
<line x1="1260.6" y1="673.8" x2="1260.6" y2="1120.3" stroke="#c4c4c4" stroke-width="1.3"/>
<line x1="1398.6" y1="673.8" x2="1398.6" y2="1120.3" stroke="#c4c4c4" stroke-width="1.3"/>
<line x1="1536.6" y1="673.8" x2="1536.6" y2="1120.3" stroke="#c4c4c4" stroke-width="1.3"/>
<line x1="1674.6" y1="673.8" x2="1674.6" y2="1120.3" stroke="#c4c4c4" stroke-width="1.3"/>
<line x1="1812.6" y1="673.8" x2="1812.6" y2="1120.3" stroke="#c4c4c4" stroke-width="1.3"/>
<line x1="1950.6" y1="673.8" x2="1950.6" y2="1120.3" stroke="#c4c4c4" stroke-width="1.3"/>
<line x1="1044.7" y1="745.6" x2="1959.4" y2="745.6" stroke="#c4c4c4" stroke-width="1.3"/>
<line x1="1044.7" y1="829.7" x2="1959.4" y2="829.7" stroke="#c4c4c4" stroke-width="1.3"/>
<line x1="1044.7" y1="913.8" x2="1959.4" y2="913.8" stroke="#c4c4c4" stroke-width="1.3"/>
<line x1="1044.7" y1="997.9" x2="1959.4" y2="997.9" stroke="#c4c4c4" stroke-width="1.3"/>
<line x1="1044.7" y1="1082" x2="1959.4" y2="1082" stroke="#c4c4c4" stroke-width="1.3"/>
<line x1="1045.3" y1="736.9" x2="1500" y2="919.5" stroke="#333" stroke-width="1.5"/>
<line x1="1500" y1="919.5" x2="1960" y2="1106.3" stroke="#333" stroke-width="1.5"/>
<line x1="1045.3" y1="739.4" x2="1960" y2="1106.9" stroke="#4f8fd6" stroke-width="2"/>
<line x1="1106.7" y1="673.8" x2="1261.2" y2="1120.3" stroke="#444" stroke-width="1"/>
<line x1="1107.9" y1="673.8" x2="1262.4" y2="1120.3" stroke="#ff0000" stroke-width="1.9"/>
<ellipse cx="1121.7" cy="710.3" rx="3.5" ry="3.8" fill="#0000e6" stroke="#00005a" stroke-width="1"/>
<ellipse cx="1124.9" cy="745.4" rx="3.5" ry="3.8" fill="#0000e6" stroke="#00005a" stroke-width="1"/>
<ellipse cx="1141.2" cy="758.9" rx="3.5" ry="3.8" fill="#0000e6" stroke="#00005a" stroke-width="1"/>
<ellipse cx="1181.1" cy="786.7" rx="3.5" ry="3.8" fill="#0000e6" stroke="#00005a" stroke-width="1"/>
<ellipse cx="1246.3" cy="814.8" rx="3.5" ry="3.8" fill="#0000e6" stroke="#00005a" stroke-width="1"/>
<ellipse cx="1360.5" cy="864.7" rx="3.5" ry="3.8" fill="#0000e6" stroke="#00005a" stroke-width="1"/>
<ellipse cx="1529.1" cy="942.2" rx="3.5" ry="3.8" fill="#0000e6" stroke="#00005a" stroke-width="1"/>
<ellipse cx="1614" cy="976.7" rx="3.5" ry="3.8" fill="#0000e6" stroke="#00005a" stroke-width="1"/>
<ellipse cx="1804.4" cy="1028.7" rx="3.5" ry="3.8" fill="#0000e6" stroke="#00005a" stroke-width="1"/>
<ellipse cx="1830.4" cy="1070.1" rx="3.5" ry="3.8" fill="#0000e6" stroke="#00005a" stroke-width="1"/>
<ellipse cx="1882.1" cy="1083.1" rx="3.5" ry="3.8" fill="#0000e6" stroke="#00005a" stroke-width="1"/>
<line x1="1044.7" y1="673.8" x2="1959.4" y2="673.8" stroke="#555" stroke-width="1.4"/>
<line x1="1959.4" y1="673.8" x2="1959.4" y2="1120.3" stroke="#555" stroke-width="1.6"/>
<line x1="1044.7" y1="673.3" x2="1044.7" y2="1121.3" stroke="#1a1a1a" stroke-width="2.2"/>
<line x1="1043.7" y1="1120.3" x2="1959.9" y2="1120.3" stroke="#1a1a1a" stroke-width="2.2"/>
<line x1="1067.4" y1="1120.3" x2="1067.4" y2="1122.1" stroke="#1a1a1a" stroke-width="1"/>
<line x1="1095" y1="1120.3" x2="1095" y2="1122.1" stroke="#1a1a1a" stroke-width="1"/>
<line x1="1122.6" y1="1120.3" x2="1122.6" y2="1122.1" stroke="#1a1a1a" stroke-width="1"/>
<line x1="1150.2" y1="1120.3" x2="1150.2" y2="1122.1" stroke="#1a1a1a" stroke-width="1"/>
<line x1="1177.8" y1="1120.3" x2="1177.8" y2="1122.1" stroke="#1a1a1a" stroke-width="1"/>
<line x1="1205.4" y1="1120.3" x2="1205.4" y2="1122.1" stroke="#1a1a1a" stroke-width="1"/>
<line x1="1233" y1="1120.3" x2="1233" y2="1122.1" stroke="#1a1a1a" stroke-width="1"/>
<line x1="1260.6" y1="1120.3" x2="1260.6" y2="1122.1" stroke="#1a1a1a" stroke-width="1"/>
<line x1="1288.2" y1="1120.3" x2="1288.2" y2="1122.1" stroke="#1a1a1a" stroke-width="1"/>
<line x1="1315.8" y1="1120.3" x2="1315.8" y2="1122.1" stroke="#1a1a1a" stroke-width="1"/>
<line x1="1343.4" y1="1120.3" x2="1343.4" y2="1122.1" stroke="#1a1a1a" stroke-width="1"/>
<line x1="1371" y1="1120.3" x2="1371" y2="1122.1" stroke="#1a1a1a" stroke-width="1"/>
<line x1="1398.6" y1="1120.3" x2="1398.6" y2="1122.1" stroke="#1a1a1a" stroke-width="1"/>
<line x1="1426.2" y1="1120.3" x2="1426.2" y2="1122.1" stroke="#1a1a1a" stroke-width="1"/>
<line x1="1453.8" y1="1120.3" x2="1453.8" y2="1122.1" stroke="#1a1a1a" stroke-width="1"/>
<line x1="1481.4" y1="1120.3" x2="1481.4" y2="1122.1" stroke="#1a1a1a" stroke-width="1"/>
<line x1="1509" y1="1120.3" x2="1509" y2="1122.1" stroke="#1a1a1a" stroke-width="1"/>
<line x1="1536.6" y1="1120.3" x2="1536.6" y2="1122.1" stroke="#1a1a1a" stroke-width="1"/>
<line x1="1564.2" y1="1120.3" x2="1564.2" y2="1122.1" stroke="#1a1a1a" stroke-width="1"/>
<line x1="1591.8" y1="1120.3" x2="1591.8" y2="1122.1" stroke="#1a1a1a" stroke-width="1"/>
<line x1="1619.4" y1="1120.3" x2="1619.4" y2="1122.1" stroke="#1a1a1a" stroke-width="1"/>
<line x1="1647" y1="1120.3" x2="1647" y2="1122.1" stroke="#1a1a1a" stroke-width="1"/>
<line x1="1674.6" y1="1120.3" x2="1674.6" y2="1122.1" stroke="#1a1a1a" stroke-width="1"/>
<line x1="1702.2" y1="1120.3" x2="1702.2" y2="1122.1" stroke="#1a1a1a" stroke-width="1"/>
<line x1="1729.8" y1="1120.3" x2="1729.8" y2="1122.1" stroke="#1a1a1a" stroke-width="1"/>
<line x1="1757.4" y1="1120.3" x2="1757.4" y2="1122.1" stroke="#1a1a1a" stroke-width="1"/>
<line x1="1785" y1="1120.3" x2="1785" y2="1122.1" stroke="#1a1a1a" stroke-width="1"/>
<line x1="1812.6" y1="1120.3" x2="1812.6" y2="1122.1" stroke="#1a1a1a" stroke-width="1"/>
<line x1="1840.2" y1="1120.3" x2="1840.2" y2="1122.1" stroke="#1a1a1a" stroke-width="1"/>
<line x1="1867.8" y1="1120.3" x2="1867.8" y2="1122.1" stroke="#1a1a1a" stroke-width="1"/>
<line x1="1895.4" y1="1120.3" x2="1895.4" y2="1122.1" stroke="#1a1a1a" stroke-width="1"/>
<line x1="1923" y1="1120.3" x2="1923" y2="1122.1" stroke="#1a1a1a" stroke-width="1"/>
<line x1="1950.6" y1="1120.3" x2="1950.6" y2="1122.1" stroke="#1a1a1a" stroke-width="1"/>
<line x1="1043.1" y1="678.32" x2="1044.7" y2="678.32" stroke="#1a1a1a" stroke-width="0.9"/>
<line x1="1043.1" y1="695.14" x2="1044.7" y2="695.14" stroke="#1a1a1a" stroke-width="0.9"/>
<line x1="1043.1" y1="711.96" x2="1044.7" y2="711.96" stroke="#1a1a1a" stroke-width="0.9"/>
<line x1="1043.1" y1="728.78" x2="1044.7" y2="728.78" stroke="#1a1a1a" stroke-width="0.9"/>
<line x1="1043.1" y1="745.6" x2="1044.7" y2="745.6" stroke="#1a1a1a" stroke-width="0.9"/>
<line x1="1043.1" y1="762.42" x2="1044.7" y2="762.42" stroke="#1a1a1a" stroke-width="0.9"/>
<line x1="1043.1" y1="779.24" x2="1044.7" y2="779.24" stroke="#1a1a1a" stroke-width="0.9"/>
<line x1="1043.1" y1="796.06" x2="1044.7" y2="796.06" stroke="#1a1a1a" stroke-width="0.9"/>
<line x1="1043.1" y1="812.88" x2="1044.7" y2="812.88" stroke="#1a1a1a" stroke-width="0.9"/>
<line x1="1043.1" y1="829.7" x2="1044.7" y2="829.7" stroke="#1a1a1a" stroke-width="0.9"/>
<line x1="1043.1" y1="846.52" x2="1044.7" y2="846.52" stroke="#1a1a1a" stroke-width="0.9"/>
<line x1="1043.1" y1="863.34" x2="1044.7" y2="863.34" stroke="#1a1a1a" stroke-width="0.9"/>
<line x1="1043.1" y1="880.16" x2="1044.7" y2="880.16" stroke="#1a1a1a" stroke-width="0.9"/>
<line x1="1043.1" y1="896.98" x2="1044.7" y2="896.98" stroke="#1a1a1a" stroke-width="0.9"/>
<line x1="1043.1" y1="913.8" x2="1044.7" y2="913.8" stroke="#1a1a1a" stroke-width="0.9"/>
<line x1="1043.1" y1="930.62" x2="1044.7" y2="930.62" stroke="#1a1a1a" stroke-width="0.9"/>
<line x1="1043.1" y1="947.44" x2="1044.7" y2="947.44" stroke="#1a1a1a" stroke-width="0.9"/>
<line x1="1043.1" y1="964.26" x2="1044.7" y2="964.26" stroke="#1a1a1a" stroke-width="0.9"/>
<line x1="1043.1" y1="981.08" x2="1044.7" y2="981.08" stroke="#1a1a1a" stroke-width="0.9"/>
<line x1="1043.1" y1="997.9" x2="1044.7" y2="997.9" stroke="#1a1a1a" stroke-width="0.9"/>
<line x1="1043.1" y1="1014.72" x2="1044.7" y2="1014.72" stroke="#1a1a1a" stroke-width="0.9"/>
<line x1="1043.1" y1="1031.54" x2="1044.7" y2="1031.54" stroke="#1a1a1a" stroke-width="0.9"/>
<line x1="1043.1" y1="1048.36" x2="1044.7" y2="1048.36" stroke="#1a1a1a" stroke-width="0.9"/>
<line x1="1043.1" y1="1065.18" x2="1044.7" y2="1065.18" stroke="#1a1a1a" stroke-width="0.9"/>
<line x1="1043.1" y1="1082" x2="1044.7" y2="1082" stroke="#1a1a1a" stroke-width="0.9"/>
<line x1="1043.1" y1="1098.82" x2="1044.7" y2="1098.82" stroke="#1a1a1a" stroke-width="0.9"/>
<line x1="1043.1" y1="1115.64" x2="1044.7" y2="1115.64" stroke="#1a1a1a" stroke-width="0.9"/>
<line x1="1122.6" y1="1120.3" x2="1122.6" y2="1122.9" stroke="#1a1a1a" stroke-width="1.2"/>
<line x1="1260.6" y1="1120.3" x2="1260.6" y2="1122.9" stroke="#1a1a1a" stroke-width="1.2"/>
<line x1="1398.6" y1="1120.3" x2="1398.6" y2="1122.9" stroke="#1a1a1a" stroke-width="1.2"/>
<line x1="1536.6" y1="1120.3" x2="1536.6" y2="1122.9" stroke="#1a1a1a" stroke-width="1.2"/>
<line x1="1674.6" y1="1120.3" x2="1674.6" y2="1122.9" stroke="#1a1a1a" stroke-width="1.2"/>
<line x1="1812.6" y1="1120.3" x2="1812.6" y2="1122.9" stroke="#1a1a1a" stroke-width="1.2"/>
<line x1="1950.6" y1="1120.3" x2="1950.6" y2="1122.9" stroke="#1a1a1a" stroke-width="1.2"/>
<line x1="1042.1" y1="745.6" x2="1044.7" y2="745.6" stroke="#1a1a1a" stroke-width="1.2"/>
<line x1="1042.1" y1="829.7" x2="1044.7" y2="829.7" stroke="#1a1a1a" stroke-width="1.2"/>
<line x1="1042.1" y1="913.8" x2="1044.7" y2="913.8" stroke="#1a1a1a" stroke-width="1.2"/>
<line x1="1042.1" y1="997.9" x2="1044.7" y2="997.9" stroke="#1a1a1a" stroke-width="1.2"/>
<line x1="1042.1" y1="1082" x2="1044.7" y2="1082" stroke="#1a1a1a" stroke-width="1.2"/>
<text transform="translate(1011 752) scale(0.7000 1)" font-size="18.3" fill="#1c1c1c" font-weight="bold" stroke="#1c1c1c" stroke-width="0.3" xml:space="preserve">3750</text>
<text transform="translate(1011 836.1) scale(0.7000 1)" font-size="18.3" fill="#1c1c1c" font-weight="bold" stroke="#1c1c1c" stroke-width="0.3" xml:space="preserve">3760</text>
<text transform="translate(1011 920.2) scale(0.7000 1)" font-size="18.3" fill="#1c1c1c" font-weight="bold" stroke="#1c1c1c" stroke-width="0.3" xml:space="preserve">3770</text>
<text transform="translate(1011 1004.3) scale(0.7000 1)" font-size="18.3" fill="#1c1c1c" font-weight="bold" stroke="#1c1c1c" stroke-width="0.3" xml:space="preserve">3780</text>
<text transform="translate(1011 1088.4) scale(0.7000 1)" font-size="18.3" fill="#1c1c1c" font-weight="bold" stroke="#1c1c1c" stroke-width="0.3" xml:space="preserve">3790</text>
<clipPath id="cDx"><rect x="1000" y="1122" width="969.4" height="23.5"/></clipPath><g clip-path="url(#cDx)">
<text transform="translate(1108.35 1142.4) scale(0.7000 1)" font-size="18.3" fill="#1c1c1c" font-weight="bold" stroke="#1c1c1c" stroke-width="0.3" xml:space="preserve">5570</text>
<text transform="translate(1246.35 1142.4) scale(0.7000 1)" font-size="18.3" fill="#1c1c1c" font-weight="bold" stroke="#1c1c1c" stroke-width="0.3" xml:space="preserve">5580</text>
<text transform="translate(1384.35 1142.4) scale(0.7000 1)" font-size="18.3" fill="#1c1c1c" font-weight="bold" stroke="#1c1c1c" stroke-width="0.3" xml:space="preserve">5590</text>
<text transform="translate(1522.35 1142.4) scale(0.7000 1)" font-size="18.3" fill="#1c1c1c" font-weight="bold" stroke="#1c1c1c" stroke-width="0.3" xml:space="preserve">5600</text>
<text transform="translate(1660.35 1142.4) scale(0.7000 1)" font-size="18.3" fill="#1c1c1c" font-weight="bold" stroke="#1c1c1c" stroke-width="0.3" xml:space="preserve">5610</text>
<text transform="translate(1798.35 1142.4) scale(0.7000 1)" font-size="18.3" fill="#1c1c1c" font-weight="bold" stroke="#1c1c1c" stroke-width="0.3" xml:space="preserve">5620</text>
<text transform="translate(1936.35 1142.4) scale(0.7000 1)" font-size="18.3" fill="#1c1c1c" font-weight="bold" stroke="#1c1c1c" stroke-width="0.3" xml:space="preserve">5630</text>
</g>
<line x1="1043.2" y1="772.3" x2="1443.2" y2="772.3" stroke="#00008f" stroke-width="4.3" stroke-dasharray="18 12.7 4.4 12.65"/>
<text transform="translate(1154.8 742.2) scale(0.9883 1)" font-size="23.6" fill="#000" font-weight="bold" stroke="#000" stroke-width="0.3" xml:space="preserve">GWC @ 3754 m (TVDSs)</text>
<line x1="1731.8" y1="768.1" x2="1813.7" y2="768.1" stroke="#ff0000" stroke-width="4.2"/>
<text transform="translate(1836.9 775.2) scale(1.0430 1)" font-size="23.6" fill="#ff0000" xml:space="preserve">Gas line</text>
<line x1="1731.8" y1="800.7" x2="1813.7" y2="800.7" stroke="#3d6fb5" stroke-width="4.2"/>
<text transform="translate(1830.5 812.3) scale(1.0979 1)" font-size="23.4" fill="#4a86d0" xml:space="preserve">Water line</text>
<text transform="translate(1292.8 831.5) scale(0.8878 1)" font-size="36" fill="#ff0000" xml:space="preserve">Gas zone</text>
<text transform="translate(1776.3 990) scale(0.9571 1)" font-size="36" fill="#4a86d0" xml:space="preserve">Water zone</text>
<text transform="translate(1059.35 722.2) scale(0.9459 1)" font-size="43" fill="#000">D</text>
<rect x="1716.1" y="674.4" width="242.7" height="59.2" stroke="none" stroke-width="0" fill="#fff"/>
<line x1="1717.1" y1="734.9" x2="1959.8" y2="734.9" stroke="#a8a8a8" stroke-width="1.2"/>
<rect x="1716.1" y="674.4" width="242.7" height="21.3" stroke="#2a2a2a" stroke-width="1.5" fill="#fff"/>
<ellipse cx="1741.4" cy="685.2" rx="3.6" ry="3.7" fill="#0000e6" stroke="#00005a" stroke-width="1"/>
<text transform="translate(1765.05 689.75) scale(0.7920 1)" font-size="16.4" fill="#2a2a2e" stroke="#2a2a2e" stroke-width="0.25" xml:space="preserve">Jj-62-1 (BALTIM NORTH 1)</text>
<rect x="1716.1" y="695.7" width="242.7" height="18" stroke="#2a2a2a" stroke-width="1.5" fill="#fff"/>
<line x1="1720.7" y1="703.7" x2="1760.5" y2="703.7" stroke="#3a3a3a" stroke-width="1.2"/>
<text transform="translate(1765.05 708.75) scale(0.7844 1)" font-size="16.4" fill="#2a2a2e" stroke="#2a2a2e" stroke-width="0.25" xml:space="preserve">Y on X (G) 0.2100  (R) 0.821567</text>
<rect x="1716.1" y="713.7" width="242.7" height="19.9" stroke="#2a2a2a" stroke-width="1.5" fill="#fff"/>
<line x1="1720.7" y1="722.1" x2="1760.5" y2="722.1" stroke="#3a3a3a" stroke-width="1.2"/>
<text transform="translate(1765.05 726.95) scale(0.7924 1)" font-size="16.4" fill="#2a2a2e" stroke="#2a2a2e" stroke-width="0.25" xml:space="preserve">Y on X (G) 1.5110  (R) 0.99515</text>
<rect x="1064.1" y="844.1" width="159.2" height="143.3" stroke="#333" stroke-width="1.3" fill="#fff"/>
<line x1="1065.6" y1="988.6" x2="1224.3" y2="988.6" stroke="#aaa" stroke-width="1"/>
<line x1="1224.5" y1="845.6" x2="1224.5" y2="988.4" stroke="#bbb" stroke-width="1"/>
<clipPath id="cD1"><rect x="1064.1" y="844.1" width="158.8" height="143.3"/></clipPath>
<g clip-path="url(#cD1)">
<text transform="translate(1067.55 857.8) scale(0.8026 1)" font-size="13.8" fill="#24242c" font-weight="bold" stroke="#24242c" stroke-width="0.25" xml:space="preserve">Pressure Gradient : 0.06 psi/ft</text>
<text transform="translate(1074.35 873.3) scale(0.7914 1)" font-size="13.8" fill="#24242c" font-weight="bold" stroke="#24242c" stroke-width="0.25" xml:space="preserve">Fluid Density  : 0.1479 g/cc</text>
<text transform="translate(1076.35 905.6) scale(0.7826 1)" font-size="13.8" fill="#24242c" font-weight="bold" stroke="#24242c" stroke-width="0.25" xml:space="preserve">Jj-62-1 (BALTIM NORTH 1)</text>
<text transform="translate(1097.55 936.1) scale(0.7673 1)" font-size="13.8" fill="#24242c" font-weight="bold" stroke="#24242c" stroke-width="0.25" xml:space="preserve">Depth</text>
<text transform="translate(1146.25 936.1) scale(0.7600 1)" font-size="13.8" fill="#24242c" font-weight="bold" stroke="#24242c" stroke-width="0.25" xml:space="preserve">Pressure</text>
<text transform="translate(1103.05 952) scale(0.7457 1)" font-size="13.8" fill="#24242c" font-weight="bold" stroke="#24242c" stroke-width="0.25" xml:space="preserve">3745.90</text>
<text transform="translate(1148.45 952) scale(0.7477 1)" font-size="13.8" fill="#24242c" font-weight="bold" stroke="#24242c" stroke-width="0.25" xml:space="preserve">5569.99</text>
<text transform="translate(1103.05 967.9) scale(0.7457 1)" font-size="13.8" fill="#24242c" font-weight="bold" stroke="#24242c" stroke-width="0.25" xml:space="preserve">3750.00</text>
<text transform="translate(1148.45 967.9) scale(0.7477 1)" font-size="13.8" fill="#24242c" font-weight="bold" stroke="#24242c" stroke-width="0.25" xml:space="preserve">5570.22</text>
<text transform="translate(1103.05 983.8) scale(0.7457 1)" font-size="13.8" fill="#24242c" font-weight="bold" stroke="#24242c" stroke-width="0.25" xml:space="preserve">3751.70</text>
<text transform="translate(1148.45 983.8) scale(0.7477 1)" font-size="13.8" fill="#24242c" font-weight="bold" stroke="#24242c" stroke-width="0.25" xml:space="preserve">5571.41</text>
</g>
<clipPath id="cD1r"><rect x="1150" y="840" width="80" height="160"/></clipPath>
<line x1="1107.9" y1="673.8" x2="1262.4" y2="1120.3" stroke="#ff0000" stroke-width="1.9" clip-path="url(#cD1r)"/>
<rect x="1453.9" y="701.1" width="145.2" height="189.9" stroke="#333" stroke-width="1.3" fill="#fff"/>
<line x1="1455.4" y1="892.2" x2="1600.1" y2="892.2" stroke="#aaa" stroke-width="1"/>
<line x1="1600.3" y1="702.6" x2="1600.3" y2="892" stroke="#bbb" stroke-width="1"/>
<clipPath id="cD2"><rect x="1453.9" y="701.1" width="144.8" height="189.9"/></clipPath>
<g clip-path="url(#cD2)">
<text transform="translate(1458.35 714.8) scale(0.7902 1)" font-size="13.8" fill="#24242c" font-weight="bold" stroke="#24242c" stroke-width="0.25" xml:space="preserve">Pressure Gradient : 1.5110 psi/ft</text>
<text transform="translate(1457.45 730.4) scale(0.7954 1)" font-size="13.8" fill="#24242c" font-weight="bold" stroke="#24242c" stroke-width="0.25" xml:space="preserve">Fluid Density  : 1.0639 g/cc</text>
<text transform="translate(1459.65 762) scale(0.7762 1)" font-size="13.8" fill="#24242c" font-weight="bold" stroke="#24242c" stroke-width="0.25" xml:space="preserve">Jj-62-1 (BALTIM NORTH 1)</text>
<text transform="translate(1481.25 793) scale(0.7673 1)" font-size="13.8" fill="#24242c" font-weight="bold" stroke="#24242c" stroke-width="0.25" xml:space="preserve">Depth</text>
<text transform="translate(1528.95 793) scale(0.7617 1)" font-size="13.8" fill="#24242c" font-weight="bold" stroke="#24242c" stroke-width="0.25" xml:space="preserve">Pressure</text>
<text transform="translate(1486.05 808.5) scale(0.7497 1)" font-size="13.8" fill="#24242c" font-weight="bold" stroke="#24242c" stroke-width="0.25" xml:space="preserve">3755.00</text>
<text transform="translate(1531.15 808.5) scale(0.7577 1)" font-size="13.8" fill="#24242c" font-weight="bold" stroke="#24242c" stroke-width="0.25" xml:space="preserve">5574.34</text>
<text transform="translate(1486.05 824.14) scale(0.7497 1)" font-size="13.8" fill="#24242c" font-weight="bold" stroke="#24242c" stroke-width="0.25" xml:space="preserve">3758.40</text>
<text transform="translate(1531.15 824.14) scale(0.7577 1)" font-size="13.8" fill="#24242c" font-weight="bold" stroke="#24242c" stroke-width="0.25" xml:space="preserve">5578.98</text>
<text transform="translate(1486.05 839.78) scale(0.7497 1)" font-size="13.8" fill="#24242c" font-weight="bold" stroke="#24242c" stroke-width="0.25" xml:space="preserve">3764.30</text>
<text transform="translate(1531.15 839.78) scale(0.7577 1)" font-size="13.8" fill="#24242c" font-weight="bold" stroke="#24242c" stroke-width="0.25" xml:space="preserve">5587.30</text>
<text transform="translate(1486.05 855.42) scale(0.7497 1)" font-size="13.8" fill="#24242c" font-weight="bold" stroke="#24242c" stroke-width="0.25" xml:space="preserve">3773.40</text>
<text transform="translate(1531.15 855.42) scale(0.7577 1)" font-size="13.8" fill="#24242c" font-weight="bold" stroke="#24242c" stroke-width="0.25" xml:space="preserve">5599.52</text>
<text transform="translate(1486.05 871.06) scale(0.7497 1)" font-size="13.8" fill="#24242c" font-weight="bold" stroke="#24242c" stroke-width="0.25" xml:space="preserve">3777.50</text>
<text transform="translate(1531.15 871.06) scale(0.7577 1)" font-size="13.8" fill="#24242c" font-weight="bold" stroke="#24242c" stroke-width="0.25" xml:space="preserve">5605.63</text>
<text transform="translate(1486.05 886.7) scale(0.7497 1)" font-size="13.8" fill="#24242c" font-weight="bold" stroke="#24242c" stroke-width="0.25" xml:space="preserve">3783.70</text>
<text transform="translate(1531.15 886.7) scale(0.7577 1)" font-size="13.8" fill="#24242c" font-weight="bold" stroke="#24242c" stroke-width="0.25" xml:space="preserve">5619.45</text>
</g>
<text transform="translate(977.5 899.7) rotate(-90) scale(0.8876 1)" x="-98.69" y="0" font-size="24.5" fill="#00008f" font-weight="bold" stroke="#00008f" stroke-width="0.45" xml:space="preserve">Depth (m,TVDss)</text>
<text transform="translate(1410.6 1208.2) scale(0.9889 1)" font-size="22.6" fill="#00008f" font-weight="bold" stroke="#00008f" stroke-width="0.45" xml:space="preserve">Pressure (PSI)</text>
</g>
<g id="panelE">
<rect x="495.9" y="1263.6" width="952.9" height="551.3" stroke="#3c3c3c" stroke-width="2" fill="#fff"/>
<line x1="718.15" y1="1280.3" x2="718.15" y2="1784.4" stroke="#c4c4c4" stroke-width="1.3"/>
<line x1="898.2" y1="1280.3" x2="898.2" y2="1784.4" stroke="#c4c4c4" stroke-width="1.3"/>
<line x1="1078.25" y1="1280.3" x2="1078.25" y2="1784.4" stroke="#c4c4c4" stroke-width="1.3"/>
<line x1="1258.3" y1="1280.3" x2="1258.3" y2="1784.4" stroke="#c4c4c4" stroke-width="1.3"/>
<line x1="1438.35" y1="1280.3" x2="1438.35" y2="1784.4" stroke="#c4c4c4" stroke-width="1.3"/>
<line x1="538.1" y1="1363.7" x2="1438.8" y2="1363.7" stroke="#c4c4c4" stroke-width="1.3"/>
<line x1="538.1" y1="1468.85" x2="1438.8" y2="1468.85" stroke="#c4c4c4" stroke-width="1.3"/>
<line x1="538.1" y1="1574" x2="1438.8" y2="1574" stroke="#c4c4c4" stroke-width="1.3"/>
<line x1="538.1" y1="1679.15" x2="1438.8" y2="1679.15" stroke="#c4c4c4" stroke-width="1.3"/>
<line x1="703" y1="1280.3" x2="1286.3" y2="1784.3" stroke="#333" stroke-width="1.3"/>
<line x1="718.2" y1="1291.8" x2="1279.4" y2="1779.7" stroke="#4585cf" stroke-width="1.9"/>
<ellipse cx="898.2" cy="1452.03" rx="3" ry="3.6" fill="#0000e6" stroke="#00005a" stroke-width="1"/>
<ellipse cx="905.4" cy="1456.23" rx="3" ry="3.6" fill="#0000e6" stroke="#00005a" stroke-width="1"/>
<ellipse cx="910.8" cy="1458.34" rx="3" ry="3.6" fill="#0000e6" stroke="#00005a" stroke-width="1"/>
<ellipse cx="914.4" cy="1462.54" rx="3" ry="3.6" fill="#0000e6" stroke="#00005a" stroke-width="1"/>
<ellipse cx="921.61" cy="1468.85" rx="3" ry="3.6" fill="#0000e6" stroke="#00005a" stroke-width="1"/>
<ellipse cx="927.01" cy="1473.06" rx="3" ry="3.6" fill="#0000e6" stroke="#00005a" stroke-width="1"/>
<ellipse cx="934.21" cy="1479.37" rx="3" ry="3.6" fill="#0000e6" stroke="#00005a" stroke-width="1"/>
<ellipse cx="937.81" cy="1485.67" rx="3" ry="3.6" fill="#0000e6" stroke="#00005a" stroke-width="1"/>
<ellipse cx="945.01" cy="1489.88" rx="3" ry="3.6" fill="#0000e6" stroke="#00005a" stroke-width="1"/>
<line x1="718.2" y1="1291.8" x2="1279.4" y2="1779.7" stroke="#4585cf" stroke-width="1.3" opacity="0.75"/>
<line x1="538.1" y1="1280.3" x2="1438.8" y2="1280.3" stroke="#333" stroke-width="2"/>
<line x1="1438.8" y1="1280.3" x2="1438.8" y2="1788.4" stroke="#aaa" stroke-width="1.6"/>
<line x1="538.1" y1="1279.8" x2="538.1" y2="1785.4" stroke="#1a1a1a" stroke-width="2.2"/>
<line x1="537.1" y1="1784.4" x2="1439.3" y2="1784.4" stroke="#1a1a1a" stroke-width="2.2"/>
<line x1="538.1" y1="1784.4" x2="538.1" y2="1786.2" stroke="#1a1a1a" stroke-width="1"/>
<line x1="574.11" y1="1784.4" x2="574.11" y2="1786.2" stroke="#1a1a1a" stroke-width="1"/>
<line x1="610.12" y1="1784.4" x2="610.12" y2="1786.2" stroke="#1a1a1a" stroke-width="1"/>
<line x1="646.13" y1="1784.4" x2="646.13" y2="1786.2" stroke="#1a1a1a" stroke-width="1"/>
<line x1="682.14" y1="1784.4" x2="682.14" y2="1786.2" stroke="#1a1a1a" stroke-width="1"/>
<line x1="718.15" y1="1784.4" x2="718.15" y2="1786.2" stroke="#1a1a1a" stroke-width="1"/>
<line x1="754.16" y1="1784.4" x2="754.16" y2="1786.2" stroke="#1a1a1a" stroke-width="1"/>
<line x1="790.17" y1="1784.4" x2="790.17" y2="1786.2" stroke="#1a1a1a" stroke-width="1"/>
<line x1="826.18" y1="1784.4" x2="826.18" y2="1786.2" stroke="#1a1a1a" stroke-width="1"/>
<line x1="862.19" y1="1784.4" x2="862.19" y2="1786.2" stroke="#1a1a1a" stroke-width="1"/>
<line x1="898.2" y1="1784.4" x2="898.2" y2="1786.2" stroke="#1a1a1a" stroke-width="1"/>
<line x1="934.21" y1="1784.4" x2="934.21" y2="1786.2" stroke="#1a1a1a" stroke-width="1"/>
<line x1="970.22" y1="1784.4" x2="970.22" y2="1786.2" stroke="#1a1a1a" stroke-width="1"/>
<line x1="1006.23" y1="1784.4" x2="1006.23" y2="1786.2" stroke="#1a1a1a" stroke-width="1"/>
<line x1="1042.24" y1="1784.4" x2="1042.24" y2="1786.2" stroke="#1a1a1a" stroke-width="1"/>
<line x1="1078.25" y1="1784.4" x2="1078.25" y2="1786.2" stroke="#1a1a1a" stroke-width="1"/>
<line x1="1114.26" y1="1784.4" x2="1114.26" y2="1786.2" stroke="#1a1a1a" stroke-width="1"/>
<line x1="1150.27" y1="1784.4" x2="1150.27" y2="1786.2" stroke="#1a1a1a" stroke-width="1"/>
<line x1="1186.28" y1="1784.4" x2="1186.28" y2="1786.2" stroke="#1a1a1a" stroke-width="1"/>
<line x1="1222.29" y1="1784.4" x2="1222.29" y2="1786.2" stroke="#1a1a1a" stroke-width="1"/>
<line x1="1258.3" y1="1784.4" x2="1258.3" y2="1786.2" stroke="#1a1a1a" stroke-width="1"/>
<line x1="1294.31" y1="1784.4" x2="1294.31" y2="1786.2" stroke="#1a1a1a" stroke-width="1"/>
<line x1="1330.32" y1="1784.4" x2="1330.32" y2="1786.2" stroke="#1a1a1a" stroke-width="1"/>
<line x1="1366.33" y1="1784.4" x2="1366.33" y2="1786.2" stroke="#1a1a1a" stroke-width="1"/>
<line x1="1402.34" y1="1784.4" x2="1402.34" y2="1786.2" stroke="#1a1a1a" stroke-width="1"/>
<line x1="1438.35" y1="1784.4" x2="1438.35" y2="1786.2" stroke="#1a1a1a" stroke-width="1"/>
<line x1="536.5" y1="1300.61" x2="538.1" y2="1300.61" stroke="#1a1a1a" stroke-width="0.9"/>
<line x1="536.5" y1="1321.64" x2="538.1" y2="1321.64" stroke="#1a1a1a" stroke-width="0.9"/>
<line x1="536.5" y1="1342.67" x2="538.1" y2="1342.67" stroke="#1a1a1a" stroke-width="0.9"/>
<line x1="536.5" y1="1363.7" x2="538.1" y2="1363.7" stroke="#1a1a1a" stroke-width="0.9"/>
<line x1="536.5" y1="1384.73" x2="538.1" y2="1384.73" stroke="#1a1a1a" stroke-width="0.9"/>
<line x1="536.5" y1="1405.76" x2="538.1" y2="1405.76" stroke="#1a1a1a" stroke-width="0.9"/>
<line x1="536.5" y1="1426.79" x2="538.1" y2="1426.79" stroke="#1a1a1a" stroke-width="0.9"/>
<line x1="536.5" y1="1447.82" x2="538.1" y2="1447.82" stroke="#1a1a1a" stroke-width="0.9"/>
<line x1="536.5" y1="1468.85" x2="538.1" y2="1468.85" stroke="#1a1a1a" stroke-width="0.9"/>
<line x1="536.5" y1="1489.88" x2="538.1" y2="1489.88" stroke="#1a1a1a" stroke-width="0.9"/>
<line x1="536.5" y1="1510.91" x2="538.1" y2="1510.91" stroke="#1a1a1a" stroke-width="0.9"/>
<line x1="536.5" y1="1531.94" x2="538.1" y2="1531.94" stroke="#1a1a1a" stroke-width="0.9"/>
<line x1="536.5" y1="1552.97" x2="538.1" y2="1552.97" stroke="#1a1a1a" stroke-width="0.9"/>
<line x1="536.5" y1="1574" x2="538.1" y2="1574" stroke="#1a1a1a" stroke-width="0.9"/>
<line x1="536.5" y1="1595.03" x2="538.1" y2="1595.03" stroke="#1a1a1a" stroke-width="0.9"/>
<line x1="536.5" y1="1616.06" x2="538.1" y2="1616.06" stroke="#1a1a1a" stroke-width="0.9"/>
<line x1="536.5" y1="1637.09" x2="538.1" y2="1637.09" stroke="#1a1a1a" stroke-width="0.9"/>
<line x1="536.5" y1="1658.12" x2="538.1" y2="1658.12" stroke="#1a1a1a" stroke-width="0.9"/>
<line x1="536.5" y1="1679.15" x2="538.1" y2="1679.15" stroke="#1a1a1a" stroke-width="0.9"/>
<line x1="536.5" y1="1700.18" x2="538.1" y2="1700.18" stroke="#1a1a1a" stroke-width="0.9"/>
<line x1="536.5" y1="1721.21" x2="538.1" y2="1721.21" stroke="#1a1a1a" stroke-width="0.9"/>
<line x1="536.5" y1="1742.24" x2="538.1" y2="1742.24" stroke="#1a1a1a" stroke-width="0.9"/>
<line x1="536.5" y1="1763.27" x2="538.1" y2="1763.27" stroke="#1a1a1a" stroke-width="0.9"/>
<line x1="536.5" y1="1784.3" x2="538.1" y2="1784.3" stroke="#1a1a1a" stroke-width="0.9"/>
<line x1="538.1" y1="1784.4" x2="538.1" y2="1787" stroke="#1a1a1a" stroke-width="1.2"/>
<line x1="718.15" y1="1784.4" x2="718.15" y2="1787" stroke="#1a1a1a" stroke-width="1.2"/>
<line x1="898.2" y1="1784.4" x2="898.2" y2="1787" stroke="#1a1a1a" stroke-width="1.2"/>
<line x1="1078.25" y1="1784.4" x2="1078.25" y2="1787" stroke="#1a1a1a" stroke-width="1.2"/>
<line x1="1258.3" y1="1784.4" x2="1258.3" y2="1787" stroke="#1a1a1a" stroke-width="1.2"/>
<line x1="1438.35" y1="1784.4" x2="1438.35" y2="1787" stroke="#1a1a1a" stroke-width="1.2"/>
<line x1="535.5" y1="1363.7" x2="538.1" y2="1363.7" stroke="#1a1a1a" stroke-width="1.2"/>
<line x1="535.5" y1="1468.85" x2="538.1" y2="1468.85" stroke="#1a1a1a" stroke-width="1.2"/>
<line x1="535.5" y1="1574" x2="538.1" y2="1574" stroke="#1a1a1a" stroke-width="1.2"/>
<line x1="535.5" y1="1679.15" x2="538.1" y2="1679.15" stroke="#1a1a1a" stroke-width="1.2"/>
<line x1="535.5" y1="1784.3" x2="538.1" y2="1784.3" stroke="#1a1a1a" stroke-width="1.2"/>
<text transform="translate(503.3 1370.1) scale(0.7000 1)" font-size="18.3" fill="#1c1c1c" font-weight="bold" stroke="#1c1c1c" stroke-width="0.3" xml:space="preserve">3700</text>
<text transform="translate(503.3 1475.25) scale(0.7000 1)" font-size="18.3" fill="#1c1c1c" font-weight="bold" stroke="#1c1c1c" stroke-width="0.3" xml:space="preserve">3725</text>
<text transform="translate(503.3 1580.4) scale(0.7000 1)" font-size="18.3" fill="#1c1c1c" font-weight="bold" stroke="#1c1c1c" stroke-width="0.3" xml:space="preserve">3750</text>
<text transform="translate(503.3 1685.55) scale(0.7000 1)" font-size="18.3" fill="#1c1c1c" font-weight="bold" stroke="#1c1c1c" stroke-width="0.3" xml:space="preserve">3775</text>
<text transform="translate(503.3 1790.7) scale(0.7000 1)" font-size="18.3" fill="#1c1c1c" font-weight="bold" stroke="#1c1c1c" stroke-width="0.3" xml:space="preserve">3800</text>
<clipPath id="cEx"><rect x="490" y="1786" width="954.7" height="28"/></clipPath><g clip-path="url(#cEx)">
<text transform="translate(523.85 1808.4) scale(0.7000 1)" font-size="18.3" fill="#1c1c1c" font-weight="bold" stroke="#1c1c1c" stroke-width="0.3" xml:space="preserve">5500</text>
<text transform="translate(703.9 1808.4) scale(0.7000 1)" font-size="18.3" fill="#1c1c1c" font-weight="bold" stroke="#1c1c1c" stroke-width="0.3" xml:space="preserve">5550</text>
<text transform="translate(883.95 1808.4) scale(0.7000 1)" font-size="18.3" fill="#1c1c1c" font-weight="bold" stroke="#1c1c1c" stroke-width="0.3" xml:space="preserve">5600</text>
<text transform="translate(1064 1808.4) scale(0.7000 1)" font-size="18.3" fill="#1c1c1c" font-weight="bold" stroke="#1c1c1c" stroke-width="0.3" xml:space="preserve">5650</text>
<text transform="translate(1244.05 1808.4) scale(0.7000 1)" font-size="18.3" fill="#1c1c1c" font-weight="bold" stroke="#1c1c1c" stroke-width="0.3" xml:space="preserve">5700</text>
<text transform="translate(1424.1 1808.4) scale(0.7000 1)" font-size="18.3" fill="#1c1c1c" font-weight="bold" stroke="#1c1c1c" stroke-width="0.3" xml:space="preserve">5750</text>
</g>
<line x1="1210.2" y1="1350" x2="1292.5" y2="1350" stroke="#3d6fb5" stroke-width="4.2"/>
<text transform="translate(1309 1361.8) scale(1.1056 1)" font-size="23.4" fill="#4a86d0" xml:space="preserve">Water line</text>
<text transform="translate(583.15 1342.6) scale(0.6809 1)" font-size="45" fill="#000">E</text>
<rect x="1200.2" y="1279.6" width="238.1" height="47.3" stroke="none" stroke-width="0" fill="#fff"/>
<line x1="1201.2" y1="1328.2" x2="1439.3" y2="1328.2" stroke="#a8a8a8" stroke-width="1.2"/>
<rect x="1200.2" y="1279.6" width="238.1" height="24.1" stroke="#2a2a2a" stroke-width="1.5" fill="#fff"/>
<ellipse cx="1223.8" cy="1292.6" rx="3.5" ry="4.5" fill="#0000e6" stroke="#00005a" stroke-width="1"/>
<text transform="translate(1247.65 1298.35) scale(0.7780 1)" font-size="16.4" fill="#2a2a2e" stroke="#2a2a2e" stroke-width="0.25" xml:space="preserve">Jj-62-1 (BALTIM NORTH 2)</text>
<rect x="1200.2" y="1303.7" width="238.1" height="23.2" stroke="#2a2a2a" stroke-width="1.5" fill="#fff"/>
<line x1="1204.7" y1="1313" x2="1243.9" y2="1313" stroke="#3a3a3a" stroke-width="1.2"/>
<text transform="translate(1247.65 1318.85) scale(0.7806 1)" font-size="16.4" fill="#2a2a2e" stroke="#2a2a2e" stroke-width="0.25" xml:space="preserve">Y on X (G) 1.3589  (R) 0.993413</text>
<rect x="716.1" y="1443.1" width="157.4" height="268" stroke="#333" stroke-width="1.3" fill="#fff"/>
<line x1="717.6" y1="1712.3" x2="874.5" y2="1712.3" stroke="#aaa" stroke-width="1"/>
<line x1="874.7" y1="1444.6" x2="874.7" y2="1712.1" stroke="#bbb" stroke-width="1"/>
<clipPath id="cE1"><rect x="716.1" y="1443.1" width="157" height="268"/></clipPath>
<g clip-path="url(#cE1)">
<text transform="translate(719.95 1459.9) scale(0.7855 1)" font-size="13.8" fill="#24242c" font-weight="bold" stroke="#24242c" stroke-width="0.25" xml:space="preserve">Pressure Gradient : 0.42 psi/ft</text>
<text transform="translate(726.85 1476.9) scale(0.7778 1)" font-size="13.8" fill="#24242c" font-weight="bold" stroke="#24242c" stroke-width="0.25" xml:space="preserve">Fluid Density  : 0.9568 g/cc</text>
<text transform="translate(729.25 1512.5) scale(0.7692 1)" font-size="13.8" fill="#24242c" font-weight="bold" stroke="#24242c" stroke-width="0.25" xml:space="preserve">Jj-62-1 (BALTIM NORTH 2)</text>
<text transform="translate(750.45 1547.3) scale(0.7494 1)" font-size="13.8" fill="#24242c" font-weight="bold" stroke="#24242c" stroke-width="0.25" xml:space="preserve">Depth</text>
<text transform="translate(797.55 1547.3) scale(0.7448 1)" font-size="13.8" fill="#24242c" font-weight="bold" stroke="#24242c" stroke-width="0.25" xml:space="preserve">Pressure</text>
<text transform="translate(755.55 1565.1) scale(0.7417 1)" font-size="13.8" fill="#24242c" font-weight="bold" stroke="#24242c" stroke-width="0.25" xml:space="preserve">3721.00</text>
<text transform="translate(799.85 1565.1) scale(0.7537 1)" font-size="13.8" fill="#24242c" font-weight="bold" stroke="#24242c" stroke-width="0.25" xml:space="preserve">5600.00</text>
<text transform="translate(755.55 1582.69) scale(0.7417 1)" font-size="13.8" fill="#24242c" font-weight="bold" stroke="#24242c" stroke-width="0.25" xml:space="preserve">3722.00</text>
<text transform="translate(799.85 1582.69) scale(0.7537 1)" font-size="13.8" fill="#24242c" font-weight="bold" stroke="#24242c" stroke-width="0.25" xml:space="preserve">5602.00</text>
<text transform="translate(755.55 1600.28) scale(0.7417 1)" font-size="13.8" fill="#24242c" font-weight="bold" stroke="#24242c" stroke-width="0.25" xml:space="preserve">3722.50</text>
<text transform="translate(799.85 1600.28) scale(0.7537 1)" font-size="13.8" fill="#24242c" font-weight="bold" stroke="#24242c" stroke-width="0.25" xml:space="preserve">5603.50</text>
<text transform="translate(755.55 1617.87) scale(0.7417 1)" font-size="13.8" fill="#24242c" font-weight="bold" stroke="#24242c" stroke-width="0.25" xml:space="preserve">3723.50</text>
<text transform="translate(799.85 1617.87) scale(0.7537 1)" font-size="13.8" fill="#24242c" font-weight="bold" stroke="#24242c" stroke-width="0.25" xml:space="preserve">5604.50</text>
<text transform="translate(755.55 1635.46) scale(0.7417 1)" font-size="13.8" fill="#24242c" font-weight="bold" stroke="#24242c" stroke-width="0.25" xml:space="preserve">3725.00</text>
<text transform="translate(799.85 1635.46) scale(0.7537 1)" font-size="13.8" fill="#24242c" font-weight="bold" stroke="#24242c" stroke-width="0.25" xml:space="preserve">5606.50</text>
<text transform="translate(755.55 1653.05) scale(0.7417 1)" font-size="13.8" fill="#24242c" font-weight="bold" stroke="#24242c" stroke-width="0.25" xml:space="preserve">3726.00</text>
<text transform="translate(799.85 1653.05) scale(0.7537 1)" font-size="13.8" fill="#24242c" font-weight="bold" stroke="#24242c" stroke-width="0.25" xml:space="preserve">5608.00</text>
<text transform="translate(755.55 1670.64) scale(0.7417 1)" font-size="13.8" fill="#24242c" font-weight="bold" stroke="#24242c" stroke-width="0.25" xml:space="preserve">3727.50</text>
<text transform="translate(799.85 1670.64) scale(0.7537 1)" font-size="13.8" fill="#24242c" font-weight="bold" stroke="#24242c" stroke-width="0.25" xml:space="preserve">5610.00</text>
<text transform="translate(755.55 1688.23) scale(0.7417 1)" font-size="13.8" fill="#24242c" font-weight="bold" stroke="#24242c" stroke-width="0.25" xml:space="preserve">3729.00</text>
<text transform="translate(799.85 1688.23) scale(0.7654 1)" font-size="13.8" fill="#24242c" font-weight="bold" stroke="#24242c" stroke-width="0.25" xml:space="preserve">5611.00</text>
<text transform="translate(755.55 1705.82) scale(0.7417 1)" font-size="13.8" fill="#24242c" font-weight="bold" stroke="#24242c" stroke-width="0.25" xml:space="preserve">3730.00</text>
<text transform="translate(799.85 1705.82) scale(0.7537 1)" font-size="13.8" fill="#24242c" font-weight="bold" stroke="#24242c" stroke-width="0.25" xml:space="preserve">5613.00</text>
</g>
<text transform="translate(434.3 1522.8) rotate(-90) scale(0.9427 1)" x="-104.33" y="0" font-size="25.9" fill="#00008f" font-weight="bold" stroke="#00008f" stroke-width="0.45" xml:space="preserve">Depth (m,TVDss)</text>
<text transform="translate(892.15 1871) scale(0.9279 1)" font-size="25.3" fill="#00008f" font-weight="bold" stroke="#00008f" stroke-width="0.45" xml:space="preserve">Pressure (PSI)</text>
</g>
</svg>
</body></html>
